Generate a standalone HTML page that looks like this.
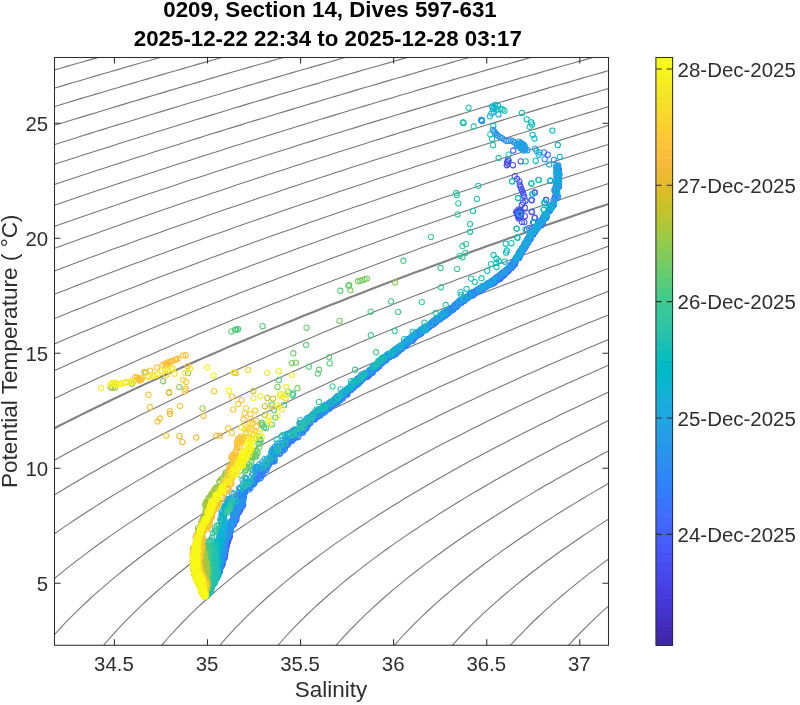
<!DOCTYPE html>
<html><head><meta charset="utf-8"><title>TS diagram</title>
<style>html,body{margin:0;padding:0;background:#fff}body{width:800px;height:705px;overflow:hidden;font-family:"Liberation Sans",sans-serif}</style></head>
<body>
<svg width="800" height="705" viewBox="0 0 800 705" style="display:block;font-family:'Liberation Sans',sans-serif;will-change:transform">
<defs><clipPath id="ax"><rect x="54.50" y="57.50" width="554.00" height="587.75"/></clipPath>
</defs>
<rect width="800" height="705" fill="#fff"/>
<g clip-path="url(#ax)" fill="none" stroke="#787878" stroke-width="1.1">
<polyline points="45.2,37.4 52.4,35.3 59.7,33.3 66.9,31.3 74.2,29.3 81.4,27.3 88.7,25.2 95.9,23.2 103.2,21.2 110.4,19.3 117.7,17.3 124.9,15.3 132.2,13.3 139.4,11.3 146.7,9.4 153.9,7.4 161.2,5.4 168.4,3.5 175.7,1.5 182.9,-0.5 190.2,-2.4 197.4,-4.3 204.7,-6.3 211.9,-8.2 219.2,-10.2 226.4,-12.1 233.6,-14.0 240.9,-15.9 248.1,-17.9 255.4,-19.8 262.6,-21.7 269.9,-23.6 277.1,-25.5 284.4,-27.4 291.6,-29.3 298.9,-31.2 306.1,-33.1 313.4,-35.0 320.6,-36.8 327.9,-38.7 335.1,-40.6 342.4,-42.5 349.6,-44.3 356.9,-46.2 364.1,-48.1 371.4,-49.9 378.6,-51.8 385.9,-53.6 393.1,-55.5 400.4,-57.3 407.6,-59.2 414.9,-61.0 422.1,-62.9 429.4,-64.7 436.6,-66.5 443.8,-68.4 451.1,-70.2 458.3,-72.0 465.6,-73.8 472.8,-75.6 480.1,-77.4 487.3,-79.3 494.6,-81.1 501.8,-82.9 509.1,-84.7 516.3,-86.5 523.6,-88.3 530.8,-90.1 538.1,-91.8 545.3,-93.6 552.6,-95.4 559.8,-97.2 567.1,-99.0 574.3,-100.8 581.6,-102.5 588.8,-104.3 596.1,-106.1 603.3,-107.8 610.6,-109.6 617.8,-111.4"/>
<polyline points="45.2,54.9 52.4,52.8 59.7,50.7 66.9,48.7 74.2,46.6 81.4,44.6 88.7,42.5 95.9,40.5 103.2,38.5 110.4,36.4 117.7,34.4 124.9,32.4 132.2,30.4 139.4,28.4 146.7,26.4 153.9,24.4 161.2,22.4 168.4,20.4 175.7,18.4 182.9,16.4 190.2,14.4 197.4,12.4 204.7,10.5 211.9,8.5 219.2,6.5 226.4,4.6 233.6,2.6 240.9,0.7 248.1,-1.3 255.4,-3.2 262.6,-5.2 269.9,-7.1 277.1,-9.1 284.4,-11.0 291.6,-12.9 298.9,-14.8 306.1,-16.7 313.4,-18.7 320.6,-20.6 327.9,-22.5 335.1,-24.4 342.4,-26.3 349.6,-28.2 356.9,-30.1 364.1,-32.0 371.4,-33.9 378.6,-35.7 385.9,-37.6 393.1,-39.5 400.4,-41.4 407.6,-43.2 414.9,-45.1 422.1,-47.0 429.4,-48.8 436.6,-50.7 443.8,-52.5 451.1,-54.4 458.3,-56.2 465.6,-58.1 472.8,-59.9 480.1,-61.8 487.3,-63.6 494.6,-65.4 501.8,-67.3 509.1,-69.1 516.3,-70.9 523.6,-72.7 530.8,-74.5 538.1,-76.4 545.3,-78.2 552.6,-80.0 559.8,-81.8 567.1,-83.6 574.3,-85.4 581.6,-87.2 588.8,-89.0 596.1,-90.8 603.3,-92.5 610.6,-94.3 617.8,-96.1"/>
<polyline points="45.2,72.7 52.4,70.6 59.7,68.5 66.9,66.4 74.2,64.3 81.4,62.2 88.7,60.1 95.9,58.1 103.2,56.0 110.4,53.9 117.7,51.9 124.9,49.8 132.2,47.7 139.4,45.7 146.7,43.7 153.9,41.6 161.2,39.6 168.4,37.6 175.7,35.5 182.9,33.5 190.2,31.5 197.4,29.5 204.7,27.5 211.9,25.5 219.2,23.5 226.4,21.5 233.6,19.5 240.9,17.5 248.1,15.5 255.4,13.5 262.6,11.6 269.9,9.6 277.1,7.6 284.4,5.7 291.6,3.7 298.9,1.8 306.1,-0.2 313.4,-2.1 320.6,-4.1 327.9,-6.0 335.1,-7.9 342.4,-9.9 349.6,-11.8 356.9,-13.7 364.1,-15.6 371.4,-17.6 378.6,-19.5 385.9,-21.4 393.1,-23.3 400.4,-25.2 407.6,-27.1 414.9,-29.0 422.1,-30.9 429.4,-32.8 436.6,-34.6 443.8,-36.5 451.1,-38.4 458.3,-40.3 465.6,-42.1 472.8,-44.0 480.1,-45.9 487.3,-47.7 494.6,-49.6 501.8,-51.5 509.1,-53.3 516.3,-55.2 523.6,-57.0 530.8,-58.8 538.1,-60.7 545.3,-62.5 552.6,-64.3 559.8,-66.2 567.1,-68.0 574.3,-69.8 581.6,-71.6 588.8,-73.5 596.1,-75.3 603.3,-77.1 610.6,-78.9 617.8,-80.7"/>
<polyline points="45.2,90.8 52.4,88.7 59.7,86.6 66.9,84.4 74.2,82.3 81.4,80.2 88.7,78.0 95.9,75.9 103.2,73.8 110.4,71.7 117.7,69.6 124.9,67.5 132.2,65.4 139.4,63.3 146.7,61.2 153.9,59.2 161.2,57.1 168.4,55.0 175.7,53.0 182.9,50.9 190.2,48.9 197.4,46.8 204.7,44.8 211.9,42.7 219.2,40.7 226.4,38.7 233.6,36.6 240.9,34.6 248.1,32.6 255.4,30.6 262.6,28.6 269.9,26.6 277.1,24.6 284.4,22.6 291.6,20.6 298.9,18.6 306.1,16.6 313.4,14.6 320.6,12.7 327.9,10.7 335.1,8.7 342.4,6.8 349.6,4.8 356.9,2.9 364.1,0.9 371.4,-1.0 378.6,-3.0 385.9,-4.9 393.1,-6.8 400.4,-8.8 407.6,-10.7 414.9,-12.6 422.1,-14.6 429.4,-16.5 436.6,-18.4 443.8,-20.3 451.1,-22.2 458.3,-24.1 465.6,-26.0 472.8,-27.9 480.1,-29.8 487.3,-31.7 494.6,-33.6 501.8,-35.4 509.1,-37.3 516.3,-39.2 523.6,-41.1 530.8,-42.9 538.1,-44.8 545.3,-46.7 552.6,-48.5 559.8,-50.4 567.1,-52.2 574.3,-54.1 581.6,-55.9 588.8,-57.8 596.1,-59.6 603.3,-61.4 610.6,-63.3 617.8,-65.1"/>
<polyline points="45.2,109.4 52.4,107.2 59.7,105.0 66.9,102.8 74.2,100.6 81.4,98.4 88.7,96.3 95.9,94.1 103.2,92.0 110.4,89.8 117.7,87.7 124.9,85.5 132.2,83.4 139.4,81.3 146.7,79.1 153.9,77.0 161.2,74.9 168.4,72.8 175.7,70.7 182.9,68.6 190.2,66.5 197.4,64.4 204.7,62.4 211.9,60.3 219.2,58.2 226.4,56.1 233.6,54.1 240.9,52.0 248.1,50.0 255.4,47.9 262.6,45.9 269.9,43.8 277.1,41.8 284.4,39.8 291.6,37.7 298.9,35.7 306.1,33.7 313.4,31.7 320.6,29.7 327.9,27.7 335.1,25.7 342.4,23.7 349.6,21.7 356.9,19.7 364.1,17.7 371.4,15.7 378.6,13.8 385.9,11.8 393.1,9.8 400.4,7.9 407.6,5.9 414.9,4.0 422.1,2.0 429.4,0.1 436.6,-1.9 443.8,-3.8 451.1,-5.8 458.3,-7.7 465.6,-9.6 472.8,-11.5 480.1,-13.5 487.3,-15.4 494.6,-17.3 501.8,-19.2 509.1,-21.1 516.3,-23.0 523.6,-24.9 530.8,-26.8 538.1,-28.7 545.3,-30.6 552.6,-32.5 559.8,-34.3 567.1,-36.2 574.3,-38.1 581.6,-40.0 588.8,-41.8 596.1,-43.7 603.3,-45.6 610.6,-47.4 617.8,-49.3"/>
<polyline points="45.2,128.3 52.4,126.0 59.7,123.8 66.9,121.5 74.2,119.3 81.4,117.1 88.7,114.9 95.9,112.7 103.2,110.5 110.4,108.3 117.7,106.1 124.9,103.9 132.2,101.7 139.4,99.6 146.7,97.4 153.9,95.2 161.2,93.1 168.4,90.9 175.7,88.8 182.9,86.6 190.2,84.5 197.4,82.4 204.7,80.3 211.9,78.1 219.2,76.0 226.4,73.9 233.6,71.8 240.9,69.7 248.1,67.6 255.4,65.5 262.6,63.5 269.9,61.4 277.1,59.3 284.4,57.2 291.6,55.2 298.9,53.1 306.1,51.1 313.4,49.0 320.6,47.0 327.9,44.9 335.1,42.9 342.4,40.9 349.6,38.8 356.9,36.8 364.1,34.8 371.4,32.8 378.6,30.8 385.9,28.8 393.1,26.8 400.4,24.8 407.6,22.8 414.9,20.8 422.1,18.8 429.4,16.8 436.6,14.9 443.8,12.9 451.1,10.9 458.3,9.0 465.6,7.0 472.8,5.1 480.1,3.1 487.3,1.2 494.6,-0.8 501.8,-2.7 509.1,-4.7 516.3,-6.6 523.6,-8.5 530.8,-10.5 538.1,-12.4 545.3,-14.3 552.6,-16.2 559.8,-18.1 567.1,-20.0 574.3,-21.9 581.6,-23.8 588.8,-25.7 596.1,-27.6 603.3,-29.5 610.6,-31.4 617.8,-33.3"/>
<polyline points="45.2,147.6 52.4,145.3 59.7,143.0 66.9,140.7 74.2,138.4 81.4,136.1 88.7,133.9 95.9,131.6 103.2,129.4 110.4,127.1 117.7,124.9 124.9,122.7 132.2,120.4 139.4,118.2 146.7,116.0 153.9,113.8 161.2,111.6 168.4,109.4 175.7,107.2 182.9,105.0 190.2,102.8 197.4,100.7 204.7,98.5 211.9,96.3 219.2,94.2 226.4,92.0 233.6,89.9 240.9,87.7 248.1,85.6 255.4,83.5 262.6,81.4 269.9,79.2 277.1,77.1 284.4,75.0 291.6,72.9 298.9,70.8 306.1,68.7 313.4,66.6 320.6,64.6 327.9,62.5 335.1,60.4 342.4,58.3 349.6,56.3 356.9,54.2 364.1,52.2 371.4,50.1 378.6,48.1 385.9,46.0 393.1,44.0 400.4,42.0 407.6,39.9 414.9,37.9 422.1,35.9 429.4,33.9 436.6,31.9 443.8,29.9 451.1,27.9 458.3,25.9 465.6,23.9 472.8,21.9 480.1,19.9 487.3,17.9 494.6,16.0 501.8,14.0 509.1,12.0 516.3,10.1 523.6,8.1 530.8,6.1 538.1,4.2 545.3,2.2 552.6,0.3 559.8,-1.6 567.1,-3.6 574.3,-5.5 581.6,-7.4 588.8,-9.4 596.1,-11.3 603.3,-13.2 610.6,-15.1 617.8,-17.0"/>
<polyline points="45.2,167.3 52.4,165.0 59.7,162.6 66.9,160.3 74.2,157.9 81.4,155.6 88.7,153.3 95.9,151.0 103.2,148.7 110.4,146.4 117.7,144.1 124.9,141.8 132.2,139.5 139.4,137.3 146.7,135.0 153.9,132.7 161.2,130.5 168.4,128.2 175.7,126.0 182.9,123.8 190.2,121.5 197.4,119.3 204.7,117.1 211.9,114.9 219.2,112.7 226.4,110.5 233.6,108.3 240.9,106.1 248.1,103.9 255.4,101.8 262.6,99.6 269.9,97.4 277.1,95.3 284.4,93.1 291.6,91.0 298.9,88.8 306.1,86.7 313.4,84.6 320.6,82.5 327.9,80.3 335.1,78.2 342.4,76.1 349.6,74.0 356.9,71.9 364.1,69.8 371.4,67.7 378.6,65.7 385.9,63.6 393.1,61.5 400.4,59.4 407.6,57.4 414.9,55.3 422.1,53.3 429.4,51.2 436.6,49.2 443.8,47.1 451.1,45.1 458.3,43.1 465.6,41.0 472.8,39.0 480.1,37.0 487.3,35.0 494.6,33.0 501.8,31.0 509.1,29.0 516.3,27.0 523.6,25.0 530.8,23.0 538.1,21.0 545.3,19.0 552.6,17.0 559.8,15.1 567.1,13.1 574.3,11.1 581.6,9.2 588.8,7.2 596.1,5.3 603.3,3.3 610.6,1.4 617.8,-0.6"/>
<polyline points="45.2,187.6 52.4,185.1 59.7,182.7 66.9,180.3 74.2,177.9 81.4,175.5 88.7,173.2 95.9,170.8 103.2,168.4 110.4,166.1 117.7,163.7 124.9,161.4 132.2,159.1 139.4,156.7 146.7,154.4 153.9,152.1 161.2,149.8 168.4,147.5 175.7,145.2 182.9,142.9 190.2,140.6 197.4,138.4 204.7,136.1 211.9,133.8 219.2,131.6 226.4,129.3 233.6,127.1 240.9,124.9 248.1,122.6 255.4,120.4 262.6,118.2 269.9,116.0 277.1,113.8 284.4,111.6 291.6,109.4 298.9,107.2 306.1,105.0 313.4,102.9 320.6,100.7 327.9,98.5 335.1,96.4 342.4,94.2 349.6,92.1 356.9,89.9 364.1,87.8 371.4,85.7 378.6,83.6 385.9,81.4 393.1,79.3 400.4,77.2 407.6,75.1 414.9,73.0 422.1,70.9 429.4,68.8 436.6,66.8 443.8,64.7 451.1,62.6 458.3,60.5 465.6,58.5 472.8,56.4 480.1,54.4 487.3,52.3 494.6,50.3 501.8,48.2 509.1,46.2 516.3,44.1 523.6,42.1 530.8,40.1 538.1,38.1 545.3,36.1 552.6,34.1 559.8,32.0 567.1,30.0 574.3,28.1 581.6,26.1 588.8,24.1 596.1,22.1 603.3,20.1 610.6,18.1 617.8,16.2"/>
<polyline points="45.2,208.3 52.4,205.9 59.7,203.4 66.9,200.9 74.2,198.4 81.4,196.0 88.7,193.5 95.9,191.1 103.2,188.7 110.4,186.3 117.7,183.8 124.9,181.4 132.2,179.0 139.4,176.7 146.7,174.3 153.9,171.9 161.2,169.5 168.4,167.2 175.7,164.8 182.9,162.5 190.2,160.2 197.4,157.8 204.7,155.5 211.9,153.2 219.2,150.9 226.4,148.6 233.6,146.3 240.9,144.0 248.1,141.7 255.4,139.5 262.6,137.2 269.9,134.9 277.1,132.7 284.4,130.4 291.6,128.2 298.9,126.0 306.1,123.7 313.4,121.5 320.6,119.3 327.9,117.1 335.1,114.9 342.4,112.7 349.6,110.5 356.9,108.3 364.1,106.1 371.4,104.0 378.6,101.8 385.9,99.6 393.1,97.5 400.4,95.3 407.6,93.2 414.9,91.0 422.1,88.9 429.4,86.8 436.6,84.6 443.8,82.5 451.1,80.4 458.3,78.3 465.6,76.2 472.8,74.1 480.1,72.0 487.3,69.9 494.6,67.8 501.8,65.8 509.1,63.7 516.3,61.6 523.6,59.6 530.8,57.5 538.1,55.4 545.3,53.4 552.6,51.3 559.8,49.3 567.1,47.3 574.3,45.2 581.6,43.2 588.8,41.2 596.1,39.2 603.3,37.1 610.6,35.1 617.8,33.1"/>
<polyline points="45.2,229.7 52.4,227.1 59.7,224.6 66.9,222.0 74.2,219.5 81.4,217.0 88.7,214.5 95.9,211.9 103.2,209.4 110.4,207.0 117.7,204.5 124.9,202.0 132.2,199.5 139.4,197.1 146.7,194.6 153.9,192.2 161.2,189.8 168.4,187.4 175.7,184.9 182.9,182.5 190.2,180.1 197.4,177.8 204.7,175.4 211.9,173.0 219.2,170.6 226.4,168.3 233.6,165.9 240.9,163.6 248.1,161.3 255.4,158.9 262.6,156.6 269.9,154.3 277.1,152.0 284.4,149.7 291.6,147.4 298.9,145.1 306.1,142.8 313.4,140.6 320.6,138.3 327.9,136.0 335.1,133.8 342.4,131.5 349.6,129.3 356.9,127.1 364.1,124.8 371.4,122.6 378.6,120.4 385.9,118.2 393.1,116.0 400.4,113.8 407.6,111.6 414.9,109.4 422.1,107.2 429.4,105.1 436.6,102.9 443.8,100.7 451.1,98.6 458.3,96.4 465.6,94.3 472.8,92.1 480.1,90.0 487.3,87.9 494.6,85.7 501.8,83.6 509.1,81.5 516.3,79.4 523.6,77.3 530.8,75.2 538.1,73.1 545.3,71.0 552.6,68.9 559.8,66.8 567.1,64.8 574.3,62.7 581.6,60.6 588.8,58.6 596.1,56.5 603.3,54.5 610.6,52.4 617.8,50.4"/>
<polyline points="45.2,251.7 52.4,249.1 59.7,246.4 66.9,243.8 74.2,241.2 81.4,238.6 88.7,236.0 95.9,233.4 103.2,230.8 110.4,228.2 117.7,225.7 124.9,223.1 132.2,220.6 139.4,218.1 146.7,215.5 153.9,213.0 161.2,210.5 168.4,208.0 175.7,205.6 182.9,203.1 190.2,200.6 197.4,198.2 204.7,195.7 211.9,193.3 219.2,190.9 226.4,188.4 233.6,186.0 240.9,183.6 248.1,181.2 255.4,178.8 262.6,176.5 269.9,174.1 277.1,171.7 284.4,169.4 291.6,167.0 298.9,164.7 306.1,162.3 313.4,160.0 320.6,157.7 327.9,155.4 335.1,153.1 342.4,150.8 349.6,148.5 356.9,146.2 364.1,143.9 371.4,141.6 378.6,139.4 385.9,137.1 393.1,134.9 400.4,132.6 407.6,130.4 414.9,128.1 422.1,125.9 429.4,123.7 436.6,121.5 443.8,119.3 451.1,117.1 458.3,114.9 465.6,112.7 472.8,110.5 480.1,108.3 487.3,106.1 494.6,104.0 501.8,101.8 509.1,99.6 516.3,97.5 523.6,95.4 530.8,93.2 538.1,91.1 545.3,88.9 552.6,86.8 559.8,84.7 567.1,82.6 574.3,80.5 581.6,78.4 588.8,76.3 596.1,74.2 603.3,72.1 610.6,70.0 617.8,67.9"/>
<polyline points="45.2,274.4 52.4,271.7 59.7,268.9 66.9,266.2 74.2,263.5 81.4,260.8 88.7,258.1 95.9,255.5 103.2,252.8 110.4,250.1 117.7,247.5 124.9,244.9 132.2,242.3 139.4,239.6 146.7,237.0 153.9,234.5 161.2,231.9 168.4,229.3 175.7,226.8 182.9,224.2 190.2,221.7 197.4,219.2 204.7,216.6 211.9,214.1 219.2,211.6 226.4,209.1 233.6,206.7 240.9,204.2 248.1,201.7 255.4,199.3 262.6,196.8 269.9,194.4 277.1,192.0 284.4,189.5 291.6,187.1 298.9,184.7 306.1,182.3 313.4,179.9 320.6,177.6 327.9,175.2 335.1,172.8 342.4,170.5 349.6,168.1 356.9,165.8 364.1,163.4 371.4,161.1 378.6,158.8 385.9,156.5 393.1,154.2 400.4,151.9 407.6,149.6 414.9,147.3 422.1,145.0 429.4,142.7 436.6,140.5 443.8,138.2 451.1,135.9 458.3,133.7 465.6,131.5 472.8,129.2 480.1,127.0 487.3,124.8 494.6,122.6 501.8,120.4 509.1,118.1 516.3,116.0 523.6,113.8 530.8,111.6 538.1,109.4 545.3,107.2 552.6,105.0 559.8,102.9 567.1,100.7 574.3,98.6 581.6,96.4 588.8,94.3 596.1,92.2 603.3,90.0 610.6,87.9 617.8,85.8"/>
<polyline points="45.2,298.0 52.4,295.1 59.7,292.3 66.9,289.4 74.2,286.6 81.4,283.8 88.7,281.0 95.9,278.3 103.2,275.5 110.4,272.8 117.7,270.0 124.9,267.3 132.2,264.6 139.4,261.9 146.7,259.2 153.9,256.5 161.2,253.9 168.4,251.2 175.7,248.6 182.9,246.0 190.2,243.3 197.4,240.7 204.7,238.1 211.9,235.5 219.2,233.0 226.4,230.4 233.6,227.8 240.9,225.3 248.1,222.8 255.4,220.2 262.6,217.7 269.9,215.2 277.1,212.7 284.4,210.2 291.6,207.7 298.9,205.3 306.1,202.8 313.4,200.4 320.6,197.9 327.9,195.5 335.1,193.0 342.4,190.6 349.6,188.2 356.9,185.8 364.1,183.4 371.4,181.0 378.6,178.6 385.9,176.3 393.1,173.9 400.4,171.5 407.6,169.2 414.9,166.8 422.1,164.5 429.4,162.2 436.6,159.9 443.8,157.5 451.1,155.2 458.3,152.9 465.6,150.6 472.8,148.4 480.1,146.1 487.3,143.8 494.6,141.5 501.8,139.3 509.1,137.0 516.3,134.8 523.6,132.5 530.8,130.3 538.1,128.1 545.3,125.9 552.6,123.6 559.8,121.4 567.1,119.2 574.3,117.0 581.6,114.8 588.8,112.6 596.1,110.5 603.3,108.3 610.6,106.1 617.8,104.0"/>
<polyline points="45.2,322.4 52.4,319.4 59.7,316.5 66.9,313.5 74.2,310.6 81.4,307.7 88.7,304.8 95.9,301.9 103.2,299.0 110.4,296.2 117.7,293.3 124.9,290.5 132.2,287.7 139.4,284.9 146.7,282.1 153.9,279.3 161.2,276.6 168.4,273.8 175.7,271.1 182.9,268.4 190.2,265.7 197.4,263.0 204.7,260.3 211.9,257.6 219.2,255.0 226.4,252.3 233.6,249.7 240.9,247.0 248.1,244.4 255.4,241.8 262.6,239.2 269.9,236.6 277.1,234.0 284.4,231.5 291.6,228.9 298.9,226.4 306.1,223.8 313.4,221.3 320.6,218.8 327.9,216.3 335.1,213.8 342.4,211.3 349.6,208.8 356.9,206.3 364.1,203.9 371.4,201.4 378.6,199.0 385.9,196.5 393.1,194.1 400.4,191.7 407.6,189.3 414.9,186.9 422.1,184.5 429.4,182.1 436.6,179.7 443.8,177.3 451.1,175.0 458.3,172.6 465.6,170.3 472.8,167.9 480.1,165.6 487.3,163.3 494.6,160.9 501.8,158.6 509.1,156.3 516.3,154.0 523.6,151.7 530.8,149.4 538.1,147.2 545.3,144.9 552.6,142.6 559.8,140.4 567.1,138.1 574.3,135.9 581.6,133.6 588.8,131.4 596.1,129.2 603.3,126.9 610.6,124.7 617.8,122.5"/>
<polyline points="45.2,347.9 52.4,344.8 59.7,341.7 66.9,338.6 74.2,335.6 81.4,332.5 88.7,329.5 95.9,326.5 103.2,323.5 110.4,320.5 117.7,317.5 124.9,314.6 132.2,311.7 139.4,308.8 146.7,305.9 153.9,303.0 161.2,300.1 168.4,297.2 175.7,294.4 182.9,291.6 190.2,288.8 197.4,286.0 204.7,283.2 211.9,280.4 219.2,277.7 226.4,274.9 233.6,272.2 240.9,269.5 248.1,266.7 255.4,264.0 262.6,261.4 269.9,258.7 277.1,256.0 284.4,253.4 291.6,250.7 298.9,248.1 306.1,245.5 313.4,242.9 320.6,240.3 327.9,237.7 335.1,235.1 342.4,232.6 349.6,230.0 356.9,227.5 364.1,224.9 371.4,222.4 378.6,219.9 385.9,217.4 393.1,214.9 400.4,212.4 407.6,209.9 414.9,207.4 422.1,205.0 429.4,202.5 436.6,200.1 443.8,197.6 451.1,195.2 458.3,192.8 465.6,190.4 472.8,188.0 480.1,185.6 487.3,183.2 494.6,180.8 501.8,178.4 509.1,176.0 516.3,173.7 523.6,171.3 530.8,169.0 538.1,166.7 545.3,164.3 552.6,162.0 559.8,159.7 567.1,157.4 574.3,155.1 581.6,152.8 588.8,150.5 596.1,148.2 603.3,146.0 610.6,143.7 617.8,141.4"/>
<polyline points="45.2,374.7 52.4,371.4 59.7,368.2 66.9,364.9 74.2,361.7 81.4,358.5 88.7,355.3 95.9,352.1 103.2,349.0 110.4,345.9 117.7,342.8 124.9,339.7 132.2,336.6 139.4,333.6 146.7,330.5 153.9,327.5 161.2,324.5 168.4,321.6 175.7,318.6 182.9,315.7 190.2,312.7 197.4,309.8 204.7,306.9 211.9,304.0 219.2,301.2 226.4,298.3 233.6,295.5 240.9,292.6 248.1,289.8 255.4,287.0 262.6,284.2 269.9,281.5 277.1,278.7 284.4,276.0 291.6,273.2 298.9,270.5 306.1,267.8 313.4,265.1 320.6,262.4 327.9,259.8 335.1,257.1 342.4,254.4 349.6,251.8 356.9,249.2 364.1,246.6 371.4,243.9 378.6,241.3 385.9,238.8 393.1,236.2 400.4,233.6 407.6,231.1 414.9,228.5 422.1,226.0 429.4,223.5 436.6,220.9 443.8,218.4 451.1,215.9 458.3,213.4 465.6,211.0 472.8,208.5 480.1,206.0 487.3,203.6 494.6,201.1 501.8,198.7 509.1,196.3 516.3,193.8 523.6,191.4 530.8,189.0 538.1,186.6 545.3,184.2 552.6,181.9 559.8,179.5 567.1,177.1 574.3,174.8 581.6,172.4 588.8,170.1 596.1,167.7 603.3,165.4 610.6,163.1 617.8,160.8"/>
<polyline points="45.2,403.0 52.4,399.5 59.7,396.0 66.9,392.6 74.2,389.1 81.4,385.8 88.7,382.4 95.9,379.0 103.2,375.7 110.4,372.4 117.7,369.2 124.9,365.9 132.2,362.7 139.4,359.5 146.7,356.3 153.9,353.2 161.2,350.0 168.4,346.9 175.7,343.8 182.9,340.7 190.2,337.7 197.4,334.6 204.7,331.6 211.9,328.6 219.2,325.6 226.4,322.6 233.6,319.6 240.9,316.7 248.1,313.8 255.4,310.9 262.6,308.0 269.9,305.1 277.1,302.2 284.4,299.4 291.6,296.5 298.9,293.7 306.1,290.9 313.4,288.1 320.6,285.3 327.9,282.5 335.1,279.8 342.4,277.0 349.6,274.3 356.9,271.6 364.1,268.9 371.4,266.2 378.6,263.5 385.9,260.8 393.1,258.1 400.4,255.5 407.6,252.9 414.9,250.2 422.1,247.6 429.4,245.0 436.6,242.4 443.8,239.8 451.1,237.2 458.3,234.7 465.6,232.1 472.8,229.6 480.1,227.0 487.3,224.5 494.6,222.0 501.8,219.5 509.1,217.0 516.3,214.5 523.6,212.0 530.8,209.5 538.1,207.1 545.3,204.6 552.6,202.2 559.8,199.7 567.1,197.3 574.3,194.9 581.6,192.5 588.8,190.1 596.1,187.7 603.3,185.3 610.6,182.9 617.8,180.5"/>
<polyline points="45.2,433.0 52.4,429.3 59.7,425.5 66.9,421.9 74.2,418.2 81.4,414.6 88.7,411.0 95.9,407.5 103.2,404.0 110.4,400.5 117.7,397.0 124.9,393.6 132.2,390.1 139.4,386.8 146.7,383.4 153.9,380.1 161.2,376.8 168.4,373.5 175.7,370.2 182.9,367.0 190.2,363.7 197.4,360.5 204.7,357.4 211.9,354.2 219.2,351.1 226.4,347.9 233.6,344.8 240.9,341.8 248.1,338.7 255.4,335.6 262.6,332.6 269.9,329.6 277.1,326.6 284.4,323.6 291.6,320.7 298.9,317.7 306.1,314.8 313.4,311.9 320.6,309.0 327.9,306.1 335.1,303.3 342.4,300.4 349.6,297.6 356.9,294.7 364.1,291.9 371.4,289.1 378.6,286.3 385.9,283.6 393.1,280.8 400.4,278.1 407.6,275.3 414.9,272.6 422.1,269.9 429.4,267.2 436.6,264.5 443.8,261.9 451.1,259.2 458.3,256.5 465.6,253.9 472.8,251.3 480.1,248.7 487.3,246.1 494.6,243.5 501.8,240.9 509.1,238.3 516.3,235.7 523.6,233.2 530.8,230.6 538.1,228.1 545.3,225.6 552.6,223.1 559.8,220.5 567.1,218.0 574.3,215.6 581.6,213.1 588.8,210.6 596.1,208.1 603.3,205.7 610.6,203.2 617.8,200.8" stroke-width="2.1" stroke="#828282"/>
<polyline points="45.2,465.3 52.4,461.3 59.7,457.2 66.9,453.3 74.2,449.3 81.4,445.4 88.7,441.6 95.9,437.8 103.2,434.0 110.4,430.2 117.7,426.5 124.9,422.8 132.2,419.2 139.4,415.6 146.7,412.0 153.9,408.5 161.2,404.9 168.4,401.5 175.7,398.0 182.9,394.6 190.2,391.1 197.4,387.8 204.7,384.4 211.9,381.1 219.2,377.8 226.4,374.5 233.6,371.2 240.9,368.0 248.1,364.7 255.4,361.5 262.6,358.4 269.9,355.2 277.1,352.1 284.4,349.0 291.6,345.9 298.9,342.8 306.1,339.7 313.4,336.7 320.6,333.6 327.9,330.6 335.1,327.6 342.4,324.7 349.6,321.7 356.9,318.8 364.1,315.8 371.4,312.9 378.6,310.0 385.9,307.2 393.1,304.3 400.4,301.4 407.6,298.6 414.9,295.8 422.1,293.0 429.4,290.2 436.6,287.4 443.8,284.6 451.1,281.9 458.3,279.1 465.6,276.4 472.8,273.7 480.1,271.0 487.3,268.3 494.6,265.6 501.8,262.9 509.1,260.2 516.3,257.6 523.6,255.0 530.8,252.3 538.1,249.7 545.3,247.1 552.6,244.5 559.8,241.9 567.1,239.3 574.3,236.8 581.6,234.2 588.8,231.7 596.1,229.1 603.3,226.6 610.6,224.1 617.8,221.6"/>
<polyline points="45.2,500.7 52.4,496.2 59.7,491.7 66.9,487.3 74.2,483.0 81.4,478.8 88.7,474.5 95.9,470.4 103.2,466.3 110.4,462.2 117.7,458.2 124.9,454.2 132.2,450.3 139.4,446.4 146.7,442.5 153.9,438.7 161.2,434.9 168.4,431.2 175.7,427.5 182.9,423.8 190.2,420.2 197.4,416.6 204.7,413.0 211.9,409.4 219.2,405.9 226.4,402.4 233.6,399.0 240.9,395.5 248.1,392.1 255.4,388.8 262.6,385.4 269.9,382.1 277.1,378.8 284.4,375.5 291.6,372.2 298.9,369.0 306.1,365.8 313.4,362.6 320.6,359.4 327.9,356.2 335.1,353.1 342.4,350.0 349.6,346.9 356.9,343.8 364.1,340.7 371.4,337.7 378.6,334.7 385.9,331.7 393.1,328.7 400.4,325.7 407.6,322.7 414.9,319.8 422.1,316.9 429.4,314.0 436.6,311.1 443.8,308.2 451.1,305.3 458.3,302.5 465.6,299.6 472.8,296.8 480.1,294.0 487.3,291.2 494.6,288.4 501.8,285.7 509.1,282.9 516.3,280.2 523.6,277.4 530.8,274.7 538.1,272.0 545.3,269.3 552.6,266.6 559.8,263.9 567.1,261.3 574.3,258.6 581.6,256.0 588.8,253.4 596.1,250.8 603.3,248.1 610.6,245.6 617.8,243.0"/>
<polyline points="45.2,540.3 52.4,535.1 59.7,530.1 66.9,525.1 74.2,520.2 81.4,515.5 88.7,510.7 95.9,506.1 103.2,501.5 110.4,497.0 117.7,492.6 124.9,488.2 132.2,483.9 139.4,479.6 146.7,475.4 153.9,471.3 161.2,467.2 168.4,463.1 175.7,459.1 182.9,455.1 190.2,451.2 197.4,447.3 204.7,443.5 211.9,439.7 219.2,435.9 226.4,432.1 233.6,428.4 240.9,424.8 248.1,421.1 255.4,417.5 262.6,414.0 269.9,410.4 277.1,406.9 284.4,403.4 291.6,400.0 298.9,396.5 306.1,393.1 313.4,389.7 320.6,386.4 327.9,383.1 335.1,379.7 342.4,376.5 349.6,373.2 356.9,370.0 364.1,366.8 371.4,363.6 378.6,360.4 385.9,357.2 393.1,354.1 400.4,351.0 407.6,347.9 414.9,344.8 422.1,341.7 429.4,338.7 436.6,335.7 443.8,332.7 451.1,329.7 458.3,326.7 465.6,323.8 472.8,320.8 480.1,317.9 487.3,315.0 494.6,312.1 501.8,309.2 509.1,306.3 516.3,303.5 523.6,300.7 530.8,297.8 538.1,295.0 545.3,292.2 552.6,289.5 559.8,286.7 567.1,283.9 574.3,281.2 581.6,278.5 588.8,275.7 596.1,273.0 603.3,270.3 610.6,267.7 617.8,265.0"/>
<polyline points="45.2,586.5 52.4,580.3 59.7,574.2 66.9,568.4 74.2,562.6 81.4,557.1 88.7,551.6 95.9,546.3 103.2,541.0 110.4,535.9 117.7,530.9 124.9,525.9 132.2,521.1 139.4,516.3 146.7,511.6 153.9,506.9 161.2,502.4 168.4,497.9 175.7,493.5 182.9,489.1 190.2,484.8 197.4,480.5 204.7,476.3 211.9,472.2 219.2,468.1 226.4,464.0 233.6,460.0 240.9,456.0 248.1,452.1 255.4,448.2 262.6,444.4 269.9,440.6 277.1,436.8 284.4,433.1 291.6,429.4 298.9,425.7 306.1,422.1 313.4,418.5 320.6,414.9 327.9,411.4 335.1,407.9 342.4,404.4 349.6,400.9 356.9,397.5 364.1,394.1 371.4,390.7 378.6,387.4 385.9,384.0 393.1,380.7 400.4,377.5 407.6,374.2 414.9,371.0 422.1,367.7 429.4,364.6 436.6,361.4 443.8,358.2 451.1,355.1 458.3,352.0 465.6,348.9 472.8,345.8 480.1,342.8 487.3,339.7 494.6,336.7 501.8,333.7 509.1,330.7 516.3,327.7 523.6,324.8 530.8,321.8 538.1,318.9 545.3,316.0 552.6,313.1 559.8,310.2 567.1,307.4 574.3,304.5 581.6,301.7 588.8,298.9 596.1,296.1 603.3,293.3 610.6,290.5 617.8,287.7"/>
<polyline points="45.2,645.6 52.4,637.0 59.7,628.9 66.9,621.2 74.2,613.9 81.4,606.8 88.7,600.0 95.9,593.4 103.2,587.1 110.4,580.9 117.7,574.9 124.9,569.0 132.2,563.3 139.4,557.8 146.7,552.3 153.9,547.0 161.2,541.8 168.4,536.6 175.7,531.6 182.9,526.7 190.2,521.8 197.4,517.1 204.7,512.4 211.9,507.8 219.2,503.2 226.4,498.7 233.6,494.3 240.9,490.0 248.1,485.7 255.4,481.4 262.6,477.2 269.9,473.1 277.1,469.0 284.4,464.9 291.6,460.9 298.9,457.0 306.1,453.0 313.4,449.2 320.6,445.3 327.9,441.5 335.1,437.7 342.4,434.0 349.6,430.3 356.9,426.7 364.1,423.0 371.4,419.4 378.6,415.9 385.9,412.3 393.1,408.8 400.4,405.3 407.6,401.9 414.9,398.5 422.1,395.1 429.4,391.7 436.6,388.3 443.8,385.0 451.1,381.7 458.3,378.4 465.6,375.2 472.8,371.9 480.1,368.7 487.3,365.5 494.6,362.4 501.8,359.2 509.1,356.1 516.3,353.0 523.6,349.9 530.8,346.8 538.1,343.7 545.3,340.7 552.6,337.7 559.8,334.7 567.1,331.7 574.3,328.7 581.6,325.8 588.8,322.8 596.1,319.9 603.3,317.0 610.6,314.1 617.8,311.2"/>
<polyline points="45.2,813.2 52.4,736.5 59.7,715.5 66.9,699.8 74.2,686.5 81.4,674.9 88.7,664.4 95.9,654.8 103.2,645.8 110.4,637.3 117.7,629.3 124.9,621.6 132.2,614.3 139.4,607.3 146.7,600.5 153.9,594.0 161.2,587.6 168.4,581.5 175.7,575.5 182.9,569.7 190.2,564.0 197.4,558.4 204.7,553.0 211.9,547.7 219.2,542.5 226.4,537.4 233.6,532.4 240.9,527.5 248.1,522.6 255.4,517.9 262.6,513.2 269.9,508.6 277.1,504.0 284.4,499.6 291.6,495.2 298.9,490.8 306.1,486.5 313.4,482.3 320.6,478.1 327.9,473.9 335.1,469.8 342.4,465.8 349.6,461.8 356.9,457.8 364.1,453.9 371.4,450.1 378.6,446.2 385.9,442.4 393.1,438.7 400.4,434.9 407.6,431.2 414.9,427.6 422.1,424.0 429.4,420.4 436.6,416.8 443.8,413.3 451.1,409.8 458.3,406.3 465.6,402.8 472.8,399.4 480.1,396.0 487.3,392.6 494.6,389.3 501.8,386.0 509.1,382.7 516.3,379.4 523.6,376.1 530.8,372.9 538.1,369.7 545.3,366.5 552.6,363.3 559.8,360.2 567.1,357.1 574.3,354.0 581.6,350.9 588.8,347.8 596.1,344.7 603.3,341.7 610.6,338.7 617.8,335.7"/>
<polyline points="45.2,813.2 52.4,813.2 59.7,813.2 66.9,813.2 74.2,813.2 81.4,813.2 88.7,813.2 95.9,813.2 103.2,776.9 110.4,734.0 117.7,714.3 124.9,699.1 132.2,686.2 139.4,674.8 146.7,664.4 153.9,654.8 161.2,645.9 168.4,637.5 175.7,629.6 182.9,622.0 190.2,614.7 197.4,607.7 204.7,601.0 211.9,594.5 219.2,588.2 226.4,582.1 233.6,576.1 240.9,570.3 248.1,564.7 255.4,559.1 262.6,553.7 269.9,548.4 277.1,543.2 284.4,538.1 291.6,533.1 298.9,528.2 306.1,523.4 313.4,518.7 320.6,514.0 327.9,509.4 335.1,504.9 342.4,500.4 349.6,496.0 356.9,491.6 364.1,487.4 371.4,483.1 378.6,478.9 385.9,474.8 393.1,470.7 400.4,466.7 407.6,462.7 414.9,458.7 422.1,454.8 429.4,451.0 436.6,447.1 443.8,443.3 451.1,439.6 458.3,435.9 465.6,432.2 472.8,428.5 480.1,424.9 487.3,421.3 494.6,417.7 501.8,414.2 509.1,410.7 516.3,407.2 523.6,403.8 530.8,400.4 538.1,397.0 545.3,393.6 552.6,390.3 559.8,386.9 567.1,383.6 574.3,380.4 581.6,377.1 588.8,373.9 596.1,370.7 603.3,367.5 610.6,364.3 617.8,361.2"/>
<polyline points="45.2,813.2 52.4,813.2 59.7,813.2 66.9,813.2 74.2,813.2 81.4,813.2 88.7,813.2 95.9,813.2 103.2,813.2 110.4,813.2 117.7,813.2 124.9,813.2 132.2,813.2 139.4,813.2 146.7,813.2 153.9,813.2 161.2,763.3 168.4,731.8 175.7,713.1 182.9,698.4 190.2,685.8 197.4,674.6 204.7,664.4 211.9,654.9 219.2,646.1 226.4,637.8 233.6,629.9 240.9,622.4 248.1,615.1 255.4,608.2 262.6,601.5 269.9,595.0 277.1,588.8 284.4,582.7 291.6,576.7 298.9,570.9 306.1,565.3 313.4,559.8 320.6,554.4 327.9,549.1 335.1,543.9 342.4,538.9 349.6,533.9 356.9,529.0 364.1,524.2 371.4,519.4 378.6,514.8 385.9,510.2 393.1,505.7 400.4,501.2 407.6,496.8 414.9,492.5 422.1,488.2 429.4,484.0 436.6,479.8 443.8,475.7 451.1,471.6 458.3,467.6 465.6,463.6 472.8,459.6 480.1,455.7 487.3,451.8 494.6,448.0 501.8,444.2 509.1,440.5 516.3,436.8 523.6,433.1 530.8,429.4 538.1,425.8 545.3,422.2 552.6,418.7 559.8,415.1 567.1,411.6 574.3,408.2 581.6,404.7 588.8,401.3 596.1,397.9 603.3,394.5 610.6,391.2 617.8,387.9"/>
<polyline points="45.2,813.2 52.4,813.2 59.7,813.2 66.9,813.2 74.2,813.2 81.4,813.2 88.7,813.2 95.9,813.2 103.2,813.2 110.4,813.2 117.7,813.2 124.9,813.2 132.2,813.2 139.4,813.2 146.7,813.2 153.9,813.2 161.2,813.2 168.4,813.2 175.7,813.2 182.9,813.2 190.2,813.2 197.4,813.2 204.7,813.2 211.9,813.2 219.2,756.9 226.4,729.8 233.6,712.0 240.9,697.7 248.1,685.4 255.4,674.4 262.6,664.3 269.9,655.0 277.1,646.3 284.4,638.0 291.6,630.2 298.9,622.7 306.1,615.5 313.4,608.6 320.6,602.0 327.9,595.5 335.1,589.3 342.4,583.2 349.6,577.3 356.9,571.6 364.1,565.9 371.4,560.4 378.6,555.1 385.9,549.8 393.1,544.6 400.4,539.6 407.6,534.6 414.9,529.7 422.1,524.9 429.4,520.2 436.6,515.6 443.8,511.0 451.1,506.5 458.3,502.0 465.6,497.6 472.8,493.3 480.1,489.0 487.3,484.8 494.6,480.6 501.8,476.5 509.1,472.4 516.3,468.4 523.6,464.4 530.8,460.5 538.1,456.6 545.3,452.7 552.6,448.9 559.8,445.1 567.1,441.4 574.3,437.7 581.6,434.0 588.8,430.3 596.1,426.7 603.3,423.1 610.6,419.6 617.8,416.1"/>
<polyline points="45.2,813.2 52.4,813.2 59.7,813.2 66.9,813.2 74.2,813.2 81.4,813.2 88.7,813.2 95.9,813.2 103.2,813.2 110.4,813.2 117.7,813.2 124.9,813.2 132.2,813.2 139.4,813.2 146.7,813.2 153.9,813.2 161.2,813.2 168.4,813.2 175.7,813.2 182.9,813.2 190.2,813.2 197.4,813.2 204.7,813.2 211.9,813.2 219.2,813.2 226.4,813.2 233.6,813.2 240.9,813.2 248.1,813.2 255.4,813.2 262.6,813.2 269.9,813.2 277.1,752.3 284.4,728.0 291.6,711.0 298.9,697.1 306.1,685.0 313.4,674.2 320.6,664.3 327.9,655.1 335.1,646.4 342.4,638.2 349.6,630.5 356.9,623.1 364.1,615.9 371.4,609.1 378.6,602.5 385.9,596.0 393.1,589.8 400.4,583.8 407.6,577.9 414.9,572.2 422.1,566.6 429.4,561.1 436.6,555.7 443.8,550.5 451.1,545.3 458.3,540.3 465.6,535.3 472.8,530.5 480.1,525.7 487.3,521.0 494.6,516.3 501.8,511.8 509.1,507.2 516.3,502.8 523.6,498.4 530.8,494.1 538.1,489.8 545.3,485.6 552.6,481.5 559.8,477.3 567.1,473.3 574.3,469.3 581.6,465.3 588.8,461.4 596.1,457.5 603.3,453.6 610.6,449.8 617.8,446.0"/>
<polyline points="45.2,813.2 52.4,813.2 59.7,813.2 66.9,813.2 74.2,813.2 81.4,813.2 88.7,813.2 95.9,813.2 103.2,813.2 110.4,813.2 117.7,813.2 124.9,813.2 132.2,813.2 139.4,813.2 146.7,813.2 153.9,813.2 161.2,813.2 168.4,813.2 175.7,813.2 182.9,813.2 190.2,813.2 197.4,813.2 204.7,813.2 211.9,813.2 219.2,813.2 226.4,813.2 233.6,813.2 240.9,813.2 248.1,813.2 255.4,813.2 262.6,813.2 269.9,813.2 277.1,813.2 284.4,813.2 291.6,813.2 298.9,813.2 306.1,813.2 313.4,813.2 320.6,813.2 327.9,813.2 335.1,748.5 342.4,726.3 349.6,710.0 356.9,696.5 364.1,684.7 371.4,674.0 378.6,664.2 385.9,655.1 393.1,646.6 400.4,638.5 407.6,630.8 414.9,623.4 422.1,616.3 429.4,609.5 436.6,602.9 443.8,596.5 451.1,590.3 458.3,584.3 465.6,578.5 472.8,572.8 480.1,567.2 487.3,561.7 494.6,556.4 501.8,551.1 509.1,546.0 516.3,541.0 523.6,536.0 530.8,531.2 538.1,526.4 545.3,521.7 552.6,517.1 559.8,512.5 567.1,508.0 574.3,503.6 581.6,499.2 588.8,494.9 596.1,490.6 603.3,486.4 610.6,482.3 617.8,478.2"/>
<polyline points="45.2,813.2 52.4,813.2 59.7,813.2 66.9,813.2 74.2,813.2 81.4,813.2 88.7,813.2 95.9,813.2 103.2,813.2 110.4,813.2 117.7,813.2 124.9,813.2 132.2,813.2 139.4,813.2 146.7,813.2 153.9,813.2 161.2,813.2 168.4,813.2 175.7,813.2 182.9,813.2 190.2,813.2 197.4,813.2 204.7,813.2 211.9,813.2 219.2,813.2 226.4,813.2 233.6,813.2 240.9,813.2 248.1,813.2 255.4,813.2 262.6,813.2 269.9,813.2 277.1,813.2 284.4,813.2 291.6,813.2 298.9,813.2 306.1,813.2 313.4,813.2 320.6,813.2 327.9,813.2 335.1,813.2 342.4,813.2 349.6,813.2 356.9,813.2 364.1,813.2 371.4,813.2 378.6,813.2 385.9,813.2 393.1,745.3 400.4,724.7 407.6,709.0 414.9,695.9 422.1,684.3 429.4,673.8 436.6,664.2 443.8,655.2 451.1,646.7 458.3,638.7 465.6,631.0 472.8,623.7 480.1,616.7 487.3,609.9 494.6,603.3 501.8,597.0 509.1,590.8 516.3,584.9 523.6,579.0 530.8,573.3 538.1,567.8 545.3,562.3 552.6,557.0 559.8,551.8 567.1,546.7 574.3,541.7 581.6,536.7 588.8,531.9 596.1,527.1 603.3,522.4 610.6,517.8 617.8,513.3"/>
<polyline points="45.2,813.2 52.4,813.2 59.7,813.2 66.9,813.2 74.2,813.2 81.4,813.2 88.7,813.2 95.9,813.2 103.2,813.2 110.4,813.2 117.7,813.2 124.9,813.2 132.2,813.2 139.4,813.2 146.7,813.2 153.9,813.2 161.2,813.2 168.4,813.2 175.7,813.2 182.9,813.2 190.2,813.2 197.4,813.2 204.7,813.2 211.9,813.2 219.2,813.2 226.4,813.2 233.6,813.2 240.9,813.2 248.1,813.2 255.4,813.2 262.6,813.2 269.9,813.2 277.1,813.2 284.4,813.2 291.6,813.2 298.9,813.2 306.1,813.2 313.4,813.2 320.6,813.2 327.9,813.2 335.1,813.2 342.4,813.2 349.6,813.2 356.9,813.2 364.1,813.2 371.4,813.2 378.6,813.2 385.9,813.2 393.1,813.2 400.4,813.2 407.6,813.2 414.9,813.2 422.1,813.2 429.4,813.2 436.6,813.2 443.8,778.8 451.1,742.5 458.3,723.2 465.6,708.1 472.8,695.3 480.1,683.9 487.3,673.6 494.6,664.1 501.8,655.2 509.1,646.8 516.3,638.9 523.6,631.3 530.8,624.0 538.1,617.0 545.3,610.3 552.6,603.8 559.8,597.5 567.1,591.3 574.3,585.4 581.6,579.6 588.8,573.9 596.1,568.4 603.3,562.9 610.6,557.6 617.8,552.4"/>
<polyline points="45.2,813.2 52.4,813.2 59.7,813.2 66.9,813.2 74.2,813.2 81.4,813.2 88.7,813.2 95.9,813.2 103.2,813.2 110.4,813.2 117.7,813.2 124.9,813.2 132.2,813.2 139.4,813.2 146.7,813.2 153.9,813.2 161.2,813.2 168.4,813.2 175.7,813.2 182.9,813.2 190.2,813.2 197.4,813.2 204.7,813.2 211.9,813.2 219.2,813.2 226.4,813.2 233.6,813.2 240.9,813.2 248.1,813.2 255.4,813.2 262.6,813.2 269.9,813.2 277.1,813.2 284.4,813.2 291.6,813.2 298.9,813.2 306.1,813.2 313.4,813.2 320.6,813.2 327.9,813.2 335.1,813.2 342.4,813.2 349.6,813.2 356.9,813.2 364.1,813.2 371.4,813.2 378.6,813.2 385.9,813.2 393.1,813.2 400.4,813.2 407.6,813.2 414.9,813.2 422.1,813.2 429.4,813.2 436.6,813.2 443.8,813.2 451.1,813.2 458.3,813.2 465.6,813.2 472.8,813.2 480.1,813.2 487.3,813.2 494.6,813.2 501.8,769.2 509.1,740.0 516.3,721.8 523.6,707.2 530.8,694.7 538.1,683.6 545.3,673.4 552.6,664.0 559.8,655.2 567.1,646.9 574.3,639.0 581.6,631.5 588.8,624.3 596.1,617.4 603.3,610.7 610.6,604.2 617.8,597.9"/>
<polyline points="45.2,813.2 52.4,813.2 59.7,813.2 66.9,813.2 74.2,813.2 81.4,813.2 88.7,813.2 95.9,813.2 103.2,813.2 110.4,813.2 117.7,813.2 124.9,813.2 132.2,813.2 139.4,813.2 146.7,813.2 153.9,813.2 161.2,813.2 168.4,813.2 175.7,813.2 182.9,813.2 190.2,813.2 197.4,813.2 204.7,813.2 211.9,813.2 219.2,813.2 226.4,813.2 233.6,813.2 240.9,813.2 248.1,813.2 255.4,813.2 262.6,813.2 269.9,813.2 277.1,813.2 284.4,813.2 291.6,813.2 298.9,813.2 306.1,813.2 313.4,813.2 320.6,813.2 327.9,813.2 335.1,813.2 342.4,813.2 349.6,813.2 356.9,813.2 364.1,813.2 371.4,813.2 378.6,813.2 385.9,813.2 393.1,813.2 400.4,813.2 407.6,813.2 414.9,813.2 422.1,813.2 429.4,813.2 436.6,813.2 443.8,813.2 451.1,813.2 458.3,813.2 465.6,813.2 472.8,813.2 480.1,813.2 487.3,813.2 494.6,813.2 501.8,813.2 509.1,813.2 516.3,813.2 523.6,813.2 530.8,813.2 538.1,813.2 545.3,813.2 552.6,813.2 559.8,763.2 567.1,737.8 574.3,720.5 581.6,706.4 588.8,694.2 596.1,683.2 603.3,673.2 610.6,663.9 617.8,655.2"/>
</g>
<defs>
<marker id="m10" markerWidth="8" markerHeight="8" refX="4" refY="4" markerUnits="userSpaceOnUse"><circle cx="4" cy="4" r="2.65" fill="none" stroke="#4743e7" stroke-width="1.05"/></marker>
<marker id="m11" markerWidth="8" markerHeight="8" refX="4" refY="4" markerUnits="userSpaceOnUse"><circle cx="4" cy="4" r="2.65" fill="none" stroke="#4747eb" stroke-width="1.05"/></marker>
<marker id="m12" markerWidth="8" markerHeight="8" refX="4" refY="4" markerUnits="userSpaceOnUse"><circle cx="4" cy="4" r="2.65" fill="none" stroke="#484bee" stroke-width="1.05"/></marker>
<marker id="m13" markerWidth="8" markerHeight="8" refX="4" refY="4" markerUnits="userSpaceOnUse"><circle cx="4" cy="4" r="2.65" fill="none" stroke="#484ef1" stroke-width="1.05"/></marker>
<marker id="m14" markerWidth="8" markerHeight="8" refX="4" refY="4" markerUnits="userSpaceOnUse"><circle cx="4" cy="4" r="2.65" fill="none" stroke="#4852f4" stroke-width="1.05"/></marker>
<marker id="m15" markerWidth="8" markerHeight="8" refX="4" refY="4" markerUnits="userSpaceOnUse"><circle cx="4" cy="4" r="2.65" fill="none" stroke="#4755f6" stroke-width="1.05"/></marker>
<marker id="m16" markerWidth="8" markerHeight="8" refX="4" refY="4" markerUnits="userSpaceOnUse"><circle cx="4" cy="4" r="2.65" fill="none" stroke="#4759f8" stroke-width="1.05"/></marker>
<marker id="m17" markerWidth="8" markerHeight="8" refX="4" refY="4" markerUnits="userSpaceOnUse"><circle cx="4" cy="4" r="2.65" fill="none" stroke="#475cfa" stroke-width="1.05"/></marker>
<marker id="m18" markerWidth="8" markerHeight="8" refX="4" refY="4" markerUnits="userSpaceOnUse"><circle cx="4" cy="4" r="2.65" fill="none" stroke="#4660fc" stroke-width="1.05"/></marker>
<marker id="m19" markerWidth="8" markerHeight="8" refX="4" refY="4" markerUnits="userSpaceOnUse"><circle cx="4" cy="4" r="2.65" fill="none" stroke="#4564fd" stroke-width="1.05"/></marker>
<marker id="m20" markerWidth="8" markerHeight="8" refX="4" refY="4" markerUnits="userSpaceOnUse"><circle cx="4" cy="4" r="2.65" fill="none" stroke="#4368fd" stroke-width="1.05"/></marker>
<marker id="m22" markerWidth="8" markerHeight="8" refX="4" refY="4" markerUnits="userSpaceOnUse"><circle cx="4" cy="4" r="2.65" fill="none" stroke="#3e6fff" stroke-width="1.05"/></marker>
<marker id="m23" markerWidth="8" markerHeight="8" refX="4" refY="4" markerUnits="userSpaceOnUse"><circle cx="4" cy="4" r="2.65" fill="none" stroke="#3a73fe" stroke-width="1.05"/></marker>
<marker id="m24" markerWidth="8" markerHeight="8" refX="4" refY="4" markerUnits="userSpaceOnUse"><circle cx="4" cy="4" r="2.65" fill="none" stroke="#3777fe" stroke-width="1.05"/></marker>
<marker id="m25" markerWidth="8" markerHeight="8" refX="4" refY="4" markerUnits="userSpaceOnUse"><circle cx="4" cy="4" r="2.65" fill="none" stroke="#337bfc" stroke-width="1.05"/></marker>
<marker id="m26" markerWidth="8" markerHeight="8" refX="4" refY="4" markerUnits="userSpaceOnUse"><circle cx="4" cy="4" r="2.65" fill="none" stroke="#307ffb" stroke-width="1.05"/></marker>
<marker id="m27" markerWidth="8" markerHeight="8" refX="4" refY="4" markerUnits="userSpaceOnUse"><circle cx="4" cy="4" r="2.65" fill="none" stroke="#2f82f9" stroke-width="1.05"/></marker>
<marker id="m28" markerWidth="8" markerHeight="8" refX="4" refY="4" markerUnits="userSpaceOnUse"><circle cx="4" cy="4" r="2.65" fill="none" stroke="#2e86f7" stroke-width="1.05"/></marker>
<marker id="m29" markerWidth="8" markerHeight="8" refX="4" refY="4" markerUnits="userSpaceOnUse"><circle cx="4" cy="4" r="2.65" fill="none" stroke="#2d89f5" stroke-width="1.05"/></marker>
<marker id="m30" markerWidth="8" markerHeight="8" refX="4" refY="4" markerUnits="userSpaceOnUse"><circle cx="4" cy="4" r="2.65" fill="none" stroke="#2d8df2" stroke-width="1.05"/></marker>
<marker id="m31" markerWidth="8" markerHeight="8" refX="4" refY="4" markerUnits="userSpaceOnUse"><circle cx="4" cy="4" r="2.65" fill="none" stroke="#2c90f0" stroke-width="1.05"/></marker>
<marker id="m32" markerWidth="8" markerHeight="8" refX="4" refY="4" markerUnits="userSpaceOnUse"><circle cx="4" cy="4" r="2.65" fill="none" stroke="#2a93ed" stroke-width="1.05"/></marker>
<marker id="m33" markerWidth="8" markerHeight="8" refX="4" refY="4" markerUnits="userSpaceOnUse"><circle cx="4" cy="4" r="2.65" fill="none" stroke="#2797eb" stroke-width="1.05"/></marker>
<marker id="m34" markerWidth="8" markerHeight="8" refX="4" refY="4" markerUnits="userSpaceOnUse"><circle cx="4" cy="4" r="2.65" fill="none" stroke="#269ae9" stroke-width="1.05"/></marker>
<marker id="m35" markerWidth="8" markerHeight="8" refX="4" refY="4" markerUnits="userSpaceOnUse"><circle cx="4" cy="4" r="2.65" fill="none" stroke="#259de7" stroke-width="1.05"/></marker>
<marker id="m36" markerWidth="8" markerHeight="8" refX="4" refY="4" markerUnits="userSpaceOnUse"><circle cx="4" cy="4" r="2.65" fill="none" stroke="#23a0e5" stroke-width="1.05"/></marker>
<marker id="m37" markerWidth="8" markerHeight="8" refX="4" refY="4" markerUnits="userSpaceOnUse"><circle cx="4" cy="4" r="2.65" fill="none" stroke="#21a3e4" stroke-width="1.05"/></marker>
<marker id="m38" markerWidth="8" markerHeight="8" refX="4" refY="4" markerUnits="userSpaceOnUse"><circle cx="4" cy="4" r="2.65" fill="none" stroke="#1fa6e2" stroke-width="1.05"/></marker>
<marker id="m39" markerWidth="8" markerHeight="8" refX="4" refY="4" markerUnits="userSpaceOnUse"><circle cx="4" cy="4" r="2.65" fill="none" stroke="#1da8e0" stroke-width="1.05"/></marker>
<marker id="m40" markerWidth="8" markerHeight="8" refX="4" refY="4" markerUnits="userSpaceOnUse"><circle cx="4" cy="4" r="2.65" fill="none" stroke="#1babde" stroke-width="1.05"/></marker>
<marker id="m41" markerWidth="8" markerHeight="8" refX="4" refY="4" markerUnits="userSpaceOnUse"><circle cx="4" cy="4" r="2.65" fill="none" stroke="#18aedb" stroke-width="1.05"/></marker>
<marker id="m42" markerWidth="8" markerHeight="8" refX="4" refY="4" markerUnits="userSpaceOnUse"><circle cx="4" cy="4" r="2.65" fill="none" stroke="#13b0d7" stroke-width="1.05"/></marker>
<marker id="m43" markerWidth="8" markerHeight="8" refX="4" refY="4" markerUnits="userSpaceOnUse"><circle cx="4" cy="4" r="2.65" fill="none" stroke="#0eb2d4" stroke-width="1.05"/></marker>
<marker id="m44" markerWidth="8" markerHeight="8" refX="4" refY="4" markerUnits="userSpaceOnUse"><circle cx="4" cy="4" r="2.65" fill="none" stroke="#08b5d0" stroke-width="1.05"/></marker>
<marker id="m45" markerWidth="8" markerHeight="8" refX="4" refY="4" markerUnits="userSpaceOnUse"><circle cx="4" cy="4" r="2.65" fill="none" stroke="#03b7cc" stroke-width="1.05"/></marker>
<marker id="m46" markerWidth="8" markerHeight="8" refX="4" refY="4" markerUnits="userSpaceOnUse"><circle cx="4" cy="4" r="2.65" fill="none" stroke="#01b8c8" stroke-width="1.05"/></marker>
<marker id="m47" markerWidth="8" markerHeight="8" refX="4" refY="4" markerUnits="userSpaceOnUse"><circle cx="4" cy="4" r="2.65" fill="none" stroke="#02bac4" stroke-width="1.05"/></marker>
<marker id="m48" markerWidth="8" markerHeight="8" refX="4" refY="4" markerUnits="userSpaceOnUse"><circle cx="4" cy="4" r="2.65" fill="none" stroke="#07bcc0" stroke-width="1.05"/></marker>
<marker id="m49" markerWidth="8" markerHeight="8" refX="4" refY="4" markerUnits="userSpaceOnUse"><circle cx="4" cy="4" r="2.65" fill="none" stroke="#0ebdbb" stroke-width="1.05"/></marker>
<marker id="m50" markerWidth="8" markerHeight="8" refX="4" refY="4" markerUnits="userSpaceOnUse"><circle cx="4" cy="4" r="2.65" fill="none" stroke="#16bfb7" stroke-width="1.05"/></marker>
<marker id="m51" markerWidth="8" markerHeight="8" refX="4" refY="4" markerUnits="userSpaceOnUse"><circle cx="4" cy="4" r="2.65" fill="none" stroke="#1ec0b2" stroke-width="1.05"/></marker>
<marker id="m52" markerWidth="8" markerHeight="8" refX="4" refY="4" markerUnits="userSpaceOnUse"><circle cx="4" cy="4" r="2.65" fill="none" stroke="#25c2ae" stroke-width="1.05"/></marker>
<marker id="m53" markerWidth="8" markerHeight="8" refX="4" refY="4" markerUnits="userSpaceOnUse"><circle cx="4" cy="4" r="2.65" fill="none" stroke="#2ac3a9" stroke-width="1.05"/></marker>
<marker id="m54" markerWidth="8" markerHeight="8" refX="4" refY="4" markerUnits="userSpaceOnUse"><circle cx="4" cy="4" r="2.65" fill="none" stroke="#2ec4a4" stroke-width="1.05"/></marker>
<marker id="m55" markerWidth="8" markerHeight="8" refX="4" refY="4" markerUnits="userSpaceOnUse"><circle cx="4" cy="4" r="2.65" fill="none" stroke="#31c69f" stroke-width="1.05"/></marker>
<marker id="m56" markerWidth="8" markerHeight="8" refX="4" refY="4" markerUnits="userSpaceOnUse"><circle cx="4" cy="4" r="2.65" fill="none" stroke="#35c79a" stroke-width="1.05"/></marker>
<marker id="m57" markerWidth="8" markerHeight="8" refX="4" refY="4" markerUnits="userSpaceOnUse"><circle cx="4" cy="4" r="2.65" fill="none" stroke="#39c995" stroke-width="1.05"/></marker>
<marker id="m58" markerWidth="8" markerHeight="8" refX="4" refY="4" markerUnits="userSpaceOnUse"><circle cx="4" cy="4" r="2.65" fill="none" stroke="#3eca8f" stroke-width="1.05"/></marker>
<marker id="m59" markerWidth="8" markerHeight="8" refX="4" refY="4" markerUnits="userSpaceOnUse"><circle cx="4" cy="4" r="2.65" fill="none" stroke="#45cb89" stroke-width="1.05"/></marker>
<marker id="m60" markerWidth="8" markerHeight="8" refX="4" refY="4" markerUnits="userSpaceOnUse"><circle cx="4" cy="4" r="2.65" fill="none" stroke="#4ccb82" stroke-width="1.05"/></marker>
<marker id="m61" markerWidth="8" markerHeight="8" refX="4" refY="4" markerUnits="userSpaceOnUse"><circle cx="4" cy="4" r="2.65" fill="none" stroke="#55cc7c" stroke-width="1.05"/></marker>
<marker id="m62" markerWidth="8" markerHeight="8" refX="4" refY="4" markerUnits="userSpaceOnUse"><circle cx="4" cy="4" r="2.65" fill="none" stroke="#5dcc75" stroke-width="1.05"/></marker>
<marker id="m63" markerWidth="8" markerHeight="8" refX="4" refY="4" markerUnits="userSpaceOnUse"><circle cx="4" cy="4" r="2.65" fill="none" stroke="#65cd6e" stroke-width="1.05"/></marker>
<marker id="m64" markerWidth="8" markerHeight="8" refX="4" refY="4" markerUnits="userSpaceOnUse"><circle cx="4" cy="4" r="2.65" fill="none" stroke="#6ecd67" stroke-width="1.05"/></marker>
<marker id="m65" markerWidth="8" markerHeight="8" refX="4" refY="4" markerUnits="userSpaceOnUse"><circle cx="4" cy="4" r="2.65" fill="none" stroke="#77cc60" stroke-width="1.05"/></marker>
<marker id="m66" markerWidth="8" markerHeight="8" refX="4" refY="4" markerUnits="userSpaceOnUse"><circle cx="4" cy="4" r="2.65" fill="none" stroke="#81cc59" stroke-width="1.05"/></marker>
<marker id="m67" markerWidth="8" markerHeight="8" refX="4" refY="4" markerUnits="userSpaceOnUse"><circle cx="4" cy="4" r="2.65" fill="none" stroke="#8acb52" stroke-width="1.05"/></marker>
<marker id="m68" markerWidth="8" markerHeight="8" refX="4" refY="4" markerUnits="userSpaceOnUse"><circle cx="4" cy="4" r="2.65" fill="none" stroke="#93ca4b" stroke-width="1.05"/></marker>
<marker id="m69" markerWidth="8" markerHeight="8" refX="4" refY="4" markerUnits="userSpaceOnUse"><circle cx="4" cy="4" r="2.65" fill="none" stroke="#9cc944" stroke-width="1.05"/></marker>
<marker id="m70" markerWidth="8" markerHeight="8" refX="4" refY="4" markerUnits="userSpaceOnUse"><circle cx="4" cy="4" r="2.65" fill="none" stroke="#a5c83d" stroke-width="1.05"/></marker>
<marker id="m71" markerWidth="8" markerHeight="8" refX="4" refY="4" markerUnits="userSpaceOnUse"><circle cx="4" cy="4" r="2.65" fill="none" stroke="#aec637" stroke-width="1.05"/></marker>
<marker id="m74" markerWidth="8" markerHeight="8" refX="4" refY="4" markerUnits="userSpaceOnUse"><circle cx="4" cy="4" r="2.65" fill="none" stroke="#c6c22a" stroke-width="1.05"/></marker>
<marker id="m75" markerWidth="8" markerHeight="8" refX="4" refY="4" markerUnits="userSpaceOnUse"><circle cx="4" cy="4" r="2.65" fill="none" stroke="#cec028" stroke-width="1.05"/></marker>
<marker id="m76" markerWidth="8" markerHeight="8" refX="4" refY="4" markerUnits="userSpaceOnUse"><circle cx="4" cy="4" r="2.65" fill="none" stroke="#d5be28" stroke-width="1.05"/></marker>
<marker id="m77" markerWidth="8" markerHeight="8" refX="4" refY="4" markerUnits="userSpaceOnUse"><circle cx="4" cy="4" r="2.65" fill="none" stroke="#dcbd29" stroke-width="1.05"/></marker>
<marker id="m79" markerWidth="8" markerHeight="8" refX="4" refY="4" markerUnits="userSpaceOnUse"><circle cx="4" cy="4" r="2.65" fill="none" stroke="#e9bb30" stroke-width="1.05"/></marker>
<marker id="m80" markerWidth="8" markerHeight="8" refX="4" refY="4" markerUnits="userSpaceOnUse"><circle cx="4" cy="4" r="2.65" fill="none" stroke="#efba35" stroke-width="1.05"/></marker>
<marker id="m81" markerWidth="8" markerHeight="8" refX="4" refY="4" markerUnits="userSpaceOnUse"><circle cx="4" cy="4" r="2.65" fill="none" stroke="#f4ba3a" stroke-width="1.05"/></marker>
<marker id="m82" markerWidth="8" markerHeight="8" refX="4" refY="4" markerUnits="userSpaceOnUse"><circle cx="4" cy="4" r="2.65" fill="none" stroke="#f9bb3d" stroke-width="1.05"/></marker>
<marker id="m83" markerWidth="8" markerHeight="8" refX="4" refY="4" markerUnits="userSpaceOnUse"><circle cx="4" cy="4" r="2.65" fill="none" stroke="#fdbd3d" stroke-width="1.05"/></marker>
<marker id="m84" markerWidth="8" markerHeight="8" refX="4" refY="4" markerUnits="userSpaceOnUse"><circle cx="4" cy="4" r="2.65" fill="none" stroke="#fec03a" stroke-width="1.05"/></marker>
<marker id="m85" markerWidth="8" markerHeight="8" refX="4" refY="4" markerUnits="userSpaceOnUse"><circle cx="4" cy="4" r="2.65" fill="none" stroke="#fec438" stroke-width="1.05"/></marker>
<marker id="m86" markerWidth="8" markerHeight="8" refX="4" refY="4" markerUnits="userSpaceOnUse"><circle cx="4" cy="4" r="2.65" fill="none" stroke="#fec835" stroke-width="1.05"/></marker>
<marker id="m87" markerWidth="8" markerHeight="8" refX="4" refY="4" markerUnits="userSpaceOnUse"><circle cx="4" cy="4" r="2.65" fill="none" stroke="#fdcc32" stroke-width="1.05"/></marker>
<marker id="m89" markerWidth="8" markerHeight="8" refX="4" refY="4" markerUnits="userSpaceOnUse"><circle cx="4" cy="4" r="2.65" fill="none" stroke="#fbd42e" stroke-width="1.05"/></marker>
<marker id="m91" markerWidth="8" markerHeight="8" refX="4" refY="4" markerUnits="userSpaceOnUse"><circle cx="4" cy="4" r="2.65" fill="none" stroke="#f7dc2a" stroke-width="1.05"/></marker>
<marker id="m92" markerWidth="8" markerHeight="8" refX="4" refY="4" markerUnits="userSpaceOnUse"><circle cx="4" cy="4" r="2.65" fill="none" stroke="#f6e028" stroke-width="1.05"/></marker>
<marker id="m93" markerWidth="8" markerHeight="8" refX="4" refY="4" markerUnits="userSpaceOnUse"><circle cx="4" cy="4" r="2.65" fill="none" stroke="#f5e427" stroke-width="1.05"/></marker>
<marker id="m94" markerWidth="8" markerHeight="8" refX="4" refY="4" markerUnits="userSpaceOnUse"><circle cx="4" cy="4" r="2.65" fill="none" stroke="#f5e825" stroke-width="1.05"/></marker>
<marker id="m95" markerWidth="8" markerHeight="8" refX="4" refY="4" markerUnits="userSpaceOnUse"><circle cx="4" cy="4" r="2.65" fill="none" stroke="#f5ec22" stroke-width="1.05"/></marker>
<marker id="m96" markerWidth="8" markerHeight="8" refX="4" refY="4" markerUnits="userSpaceOnUse"><circle cx="4" cy="4" r="2.65" fill="none" stroke="#f6f020" stroke-width="1.05"/></marker>
<marker id="m97" markerWidth="8" markerHeight="8" refX="4" refY="4" markerUnits="userSpaceOnUse"><circle cx="4" cy="4" r="2.65" fill="none" stroke="#f7f31d" stroke-width="1.05"/></marker>
<marker id="m98" markerWidth="8" markerHeight="8" refX="4" refY="4" markerUnits="userSpaceOnUse"><circle cx="4" cy="4" r="2.65" fill="none" stroke="#f8f719" stroke-width="1.05"/></marker>
<marker id="m99" markerWidth="8" markerHeight="8" refX="4" refY="4" markerUnits="userSpaceOnUse"><circle cx="4" cy="4" r="2.65" fill="none" stroke="#f9fb15" stroke-width="1.05"/></marker>
</defs>
<g clip-path="url(#ax)" fill="none" stroke="none">
<polyline points="217.6,573.8 240.6,505.6 232.8,522.9 226.7,535.7 274.4,457.6 272.3,461.3 224.2,550.3 221.6,563 225.3,553.3 229.8,529.2 242.9,492.2 224.4,551.8 223,551.1 225.6,542.2 294,434.5 225.3,547.3" marker-start="url(#m10)" marker-mid="url(#m10)" marker-end="url(#m10)"/>
<polyline points="229.1,529.4 221,566.4 248.9,484.6 245.4,486.7 225.8,540.8 217,573.9 283.4,445.3 233.4,524.7 226.7,542.8 221.5,562.5 238.5,496.3 222,558.6 263.1,469.5 271.2,460.8 222,563.2 311.7,418.6 275.1,454 221.7,557.3 222.4,559 227.8,541.3 223,560.5 231.7,525.8 225.2,545.9 230.1,528 251.3,482.2" marker-start="url(#m11)" marker-mid="url(#m11)" marker-end="url(#m11)"/>
<polyline points="254,479.8 224.2,551.7 219.7,565.3 306.7,423.2 238.9,507.2 228.5,539.1 219.7,571.3 223.2,555.1 233.8,522 235.3,507.6 217.5,572.8 507.9,159.9 507.1,162.2 506.8,165.2 508.6,160.7 507.9,163.7 317.3,416.6 226.1,548.3 223.2,552.4 343.9,395.4 248.6,481.5 517.1,212.3 384.5,360.1 262.4,471.9 236.3,517.5 227.1,537.7 481.8,289.4 413.4,338.5 366.3,376.9 229.4,536 282.3,448.1 334.7,403.4 230.8,528.8 396.7,351.8 221.6,564.4 519.2,215.9 465.4,298.1 252.7,481.6 519.6,213.6 456.4,306.8 223.2,552.9 350.3,388.6 222.3,563.9 221,565.1 384.5,360 271.9,456.7 445,315.6 474.3,293.4 519.2,212.2 405.2,344.8 392.9,355.5 427.3,327.7 457.7,304.1 219.6,568.3 225.5,540.1 241,503 518,210.8 237.5,496.5 452.5,309.7 299.6,430.4 368.9,375.3 230.1,532.5 228.6,539.1 410.8,340.1 302,426.7 272.6,455.6 417.4,335.3 521.3,211.2 359.9,381.4 366,376.5 471.9,293.9 283.8,446.6 230.7,528.3 220.9,567.1 376,368.8 239,506.8 287.2,443.3 358.6,381.4 235.5,506.2 236,519.6" marker-start="url(#m12)" marker-mid="url(#m12)" marker-end="url(#m12)"/>
<polyline points="518.6,209.3 231.3,524.6 453.3,308.6 240.1,505.3 372.2,372 333.1,404.8 228.4,532.6 238.5,511.9 520.6,212.7 485.6,286.4 221.8,564.6 517.1,214.5 518.7,211.9 519.7,217.6 246.4,486.7 519.4,213.7 426.1,329.6 237.1,514.3 317,415.9 242.3,504.4 367.9,373.9 520.3,215.6 516,260.3 520.2,210.1 497.1,280.2 497.8,277.1 324.3,410.8 225.4,545.7 466.4,298.5 540.9,223.7 513.7,264.2 526.8,229.6 482.7,288.4 395.9,352.1 292.5,437.1 288.7,438.5 440.1,319.3 519,214 229.7,536.7 559,175.9 241.2,501 416.7,335.2 519.6,213.9 347,394.5 520.6,214.9 533.2,234.3 515.9,260.1 519.4,213.8 226.4,537.3 257.9,473 478,290.6 433,324 557.5,170.8 230.4,529.3 537.9,223.7 222.1,560.8 284.9,445.7 225.1,549.5 220.2,566 367.7,374.6 361.7,379.4 555.8,186.8 520.2,212.9 519.3,210.8 255.1,479.5 222.2,565 499.1,278.6 507.2,272.1 244.2,490.8 478.1,291.6 222.8,561.5 220.9,566.4 528.7,240.9 515.9,259 518.8,214.8 284,444.8 236.3,517 454.5,306.7 223,552.2 448,313.3 521.8,204.8 519.1,214.7 237.8,497.1 276.4,453.7 226.9,544.4 218.6,566.9 237.6,501.9 524.8,216.2 557.8,173.2 314.6,418.7 522,190.8 445.2,315.2 241.8,505.3 219.8,570.8 517.6,214.8 367.6,376.1 447.6,312.7 524.8,207.7 546,216.4 517.5,213.8 225,546.4" marker-start="url(#m13)" marker-mid="url(#m13)" marker-end="url(#m13)"/>
<polyline points="532.8,232.8 223.5,557.4 521,215.3 555.7,191.4 519.4,256.5 335.7,402.4 442.8,315.7 471.9,294.7 521.8,222.1 437,320.3 520.9,215 521.2,212 241.8,500.4 528.8,228.1 558.9,186.8 377.2,366.5 556.9,183.6 518.6,215.9 509,268.1 523,202.5 346,393.8 326.5,408.3 220.9,563.4 518.9,255.9 222.2,554.7 288.4,441.8 224.5,556.4 330.1,407.3 518.4,213.9 519.5,214.8 371,372.4 523.5,194.8 393.8,352.8 262,468.2 545.8,214.2 235.7,503.7 518.2,216.8 285.9,444.3 514.7,176.2 236.1,510.6 519.3,181.4 225.6,540.1 460.3,303 528.1,240.2 524.6,246.3 558.4,184.8 522.8,192.8 356.1,385.2 519.1,256.6 517,178.8 370.2,372.8 521.3,188.9 234.1,522.7 452.3,308.8 518.8,255.1 520.2,215.6 549.8,209.8 367.4,376.5 451.5,309.5 227.7,541.9 262,469.4 502.2,274 511.8,264.9 545.4,215.4 524.3,196.8 520.6,187 286.8,441 239.8,495.7 502.8,275.9 409.8,340 226.7,545.4 503.8,272.8 518.7,213 511.8,267.1 243.8,490.3 216.7,574.2 551.9,205.6 520.5,211 518.9,214.5 534.7,231 554.9,197 504.9,272.4 521.6,250.9 218.7,567.6 220.8,563.1 518.6,255.5 427.8,327.1 456.6,306.6 509.4,269.3 557.8,168.9 436.1,321.9 509.8,267.6 218.3,570.9 518.2,211.1 529.4,236 223.8,552.2 510.6,266 558.7,175 489.2,284.8 389.4,356.9 531.7,228.6 518.6,218.4 359.7,382.1 535.6,229.5 309.1,419.9 225,547.7 547.4,213 304.5,428 525.6,242.5" marker-start="url(#m14)" marker-mid="url(#m14)" marker-end="url(#m14)"/>
<polyline points="532.3,232.3 519.1,253 502.2,274.3 472.9,295.2 499.2,279.3 325.5,410.7 463.8,300.9 532.3,232.5 256.7,475.9 280.5,449 345.3,394.3 518.5,214.3 519.2,214.1 425.8,329.7 539.2,223.7 540.8,222 525.3,200.8 225.2,542.3 541.2,222.4 524.3,222.1 556.7,177.2 226.7,536.1 535.6,229.4 328,407.6 300,431.8 526.2,244.6 411.6,339.9 519.8,184.9 535.2,230.7 463,300.8 242.1,504.9 290.8,439.4 423.5,330.1 516.1,211.8 531.7,200.1 531.7,212.1 534.7,218.1 533.2,222.6 534.7,192.6 545.9,200.1 513.2,150.5 512.9,165.2 520.7,161.4 534.7,192.3 531.5,200.3 531.9,211.7 534.7,217.7 533.2,222.6 546.1,199.8 512.8,266 320.4,413.2 501.6,273.9 347.3,393.5 293.4,439.1 508.3,271 305.8,423.9 538.9,225.5 531.7,235 398.8,351 231.9,525.4 267.9,460.7 328.4,407.6 529.7,236.8 222,560.3 541.7,220.5 287.3,439.8 286,443.9 278.7,451.2 495.1,280.7 500.4,275.3 518.4,256.3 558,167.4 494.1,282.1 238.3,507.3 518.8,257.4 519.3,257.2 397.9,351.2 455.6,305.9 309.1,420.3 521.5,250.4 240.3,505.8 554.6,198.3 457.6,304.9 225.3,547.1 272.7,455 220,567.7 539.8,222.4 474.1,293.6 225,550.3 398,350.2 442.7,316.7 268.9,464.3 523.8,248.1 334.5,403.4 377.3,367.4 224.1,555.5 338.4,401 222.7,560.6 291.4,439.1 533.9,231.2 283.3,444.8 219.9,567.3 545,216.5 276.8,451.3" marker-start="url(#m15)" marker-mid="url(#m15)" marker-end="url(#m15)"/>
<polyline points="422.4,331 225,550.9 306,424.3 493.2,282 338.1,401.7 556.6,170.9 265.1,466.3 350.7,388.9 243.1,504.9 230.5,530.8 248.4,487.2 461.2,302.4 254.7,478.4 219,572.5 236.2,520 514.8,264.3 522.1,248.5 225.6,550.2 221.7,564.3 498.4,278.3 342.5,397.3 544.1,219.3 546.3,216.1 558.6,169.6 340.3,397.7 338.6,397.9 379.1,366.2 264.4,468.1 480.1,290.8 502.8,275 361.4,379.1 487.2,285.2 509.1,267.5 543.7,217.2 472.8,293.5 407.3,343.3 421.2,333.2 318,416.4 556.3,194.7 335.4,402 383.9,359.7 539.1,222.7 222.8,554.1 475.3,292.8 234,523.4 541.6,221 223.2,555 219.7,568.5 522.3,250.9 506.7,270.2 494.4,280.6 520.6,252.4 496.5,280 223.1,560.7 525.5,244 339.7,399.8 396.7,352.1 529.2,237.4 219.9,568.9 543.2,219.3 225.5,550.1 445.4,314.5 241.5,507.8 343.9,395.8 314.6,419.4 222.7,552.2 505.6,271.1 558.3,174.9 337.2,399.5 518.2,254.8 520.3,251.6 238.7,507.9 220.6,564.6 223.8,545.9" marker-start="url(#m16)" marker-mid="url(#m16)" marker-end="url(#m16)"/>
<polyline points="315.6,416.3 355.2,384.5 529.7,238.6 522.6,248.2 499.7,277.9 367.1,375.6 241,502 524.2,249.1 464.7,300.2 239.9,510.5 431.5,324.6 347.5,392.3 504.4,274.8 495,280.1 224,550 319.5,414.1 226,537.7 544.8,217.9 412.3,338.6 368.1,374.4 362.8,378.8 540.7,222.1 324.5,410.6 238.6,512.5 505.8,271.4 494.4,282.8 497.4,278.6 414.9,337.6 464.2,299.6 223.8,553.8 501.8,275.9 225,554.7 220.3,567.3 378.8,366.1 498.8,277.5 526.4,244.7 524.5,246.8 229.2,529.8 405.9,343.7 217.2,574.1 519,254.2 391.4,355.2 365.1,376.4 234.1,522.2 224.6,557.8 395.7,351.6 487.7,285.5 399.6,349.4 393.7,353.4 423.3,330.7 407.6,342.9 445.8,314.2 487.9,284.6 399,349.3 507.3,269.8 354,386.8 342.6,398.3 532.9,234.3 224.2,557.6 534.1,231.6 360.5,380.7 537.3,227.9 239.5,505.2" marker-start="url(#m17)" marker-mid="url(#m17)" marker-end="url(#m17)"/>
<polyline points="418.5,334.4 329.5,408.1 434.6,323.2 517.7,256.3 351.2,388.4 546.7,216.4 477.2,291.7 490.9,283.3 535.9,227.2 432.8,324.4 218.1,572.8 491.6,283.1 225.5,550.1 335.3,402 224.6,551.2 231.9,525.6 221.8,562.4 490.6,284.4 500.8,277.2 329.2,408.5 218.1,573.1 217.2,574.2 523.4,248.8 219.8,568.8 519.5,253.5 542.9,222.4 509.6,268.5 545.8,217.9 521.5,249.9 534.6,231.9 497.9,278 516.1,258.6 518.5,257.6 541,225.4 515.9,258.3 545.1,217.1 517.7,256.7 541.3,220.7 522.4,251" marker-start="url(#m18)" marker-mid="url(#m18)" marker-end="url(#m18)"/>
<polyline points="523.3,247.3 508.6,269.5 500.6,278.2 498,277.2 528.6,237.3 535,231.1 541.2,222.3 513,265.9 539.1,223.7 515.1,262.5 538.4,224.5" marker-start="url(#m19)" marker-mid="url(#m19)" marker-end="url(#m19)"/>
<polyline points="544,152.4 547.7,154.7" marker-start="url(#m20)" marker-mid="url(#m20)" marker-end="url(#m20)"/>
<polyline points="507.1,270.7 497.4,277.9 529.4,240.1 520.5,252.3 542,221.3 497.9,276.5 502,274.8 544.1,215.9 546.1,215.4 521,250.9 541.3,223.8 518.7,258 539.6,222.6 519.6,253.2 539.5,223.4 511.3,267.9" marker-start="url(#m22)" marker-mid="url(#m22)" marker-end="url(#m22)"/>
<polyline points="530.4,236.5 531.5,233.3 521.6,250.7 518.3,254.6 524,247.1 515.3,260.9 533.7,232.2 506,270.4 518.3,256.1 513.8,262.4 523.5,248 524.6,245.3 534.1,230.7 518.3,256.1 523.6,246 546.3,216.8 525.4,244.8 513.3,265.1 520.8,252.8 546.2,216.2 536.7,226.5 498,277.1 530.4,235.4" marker-start="url(#m23)" marker-mid="url(#m23)" marker-end="url(#m23)"/>
<polyline points="540.1,221.8 545.7,216.1 483.6,288.3 490.3,283.1 343.1,396.3 288.1,442.6 420.9,330.3 512.1,263.9 308.4,424 393,354.7 436.1,320 245.2,487.9 391.2,353.6 335.6,398 344.3,394.2 357,382.1 332.7,403.6 473.5,293 228.4,532.7 319.3,413.5 320.9,408.7 249.2,484.2 237.1,504.8 239.8,500.8 215.7,571.8 369.6,370.4 468.3,296.7 223.8,552.1 324.2,408.5 218.1,572.5 227.6,537.9 257.3,479.4 486.6,286.5 407.4,342.1 533.5,230.2 240.6,494.2 406.5,341.7 219.3,567.8 478.1,290.5 431,324.1 244.8,490.5 522,248.3 241.3,501.2 502.1,273.5 224.1,550.9 416.6,333.5 244,491.6 214.6,582.1 344.6,395.3 488.7,282.9 224.6,545.1 445.1,315.3 322.2,409.8 462.9,299.6 329.8,404.6 447,311.4 498.6,277.1 412.6,340.8 329.1,403.3 468.1,296.3 216.5,567 378.1,363.8 488.2,283.9 324.1,406.9 441.3,316.6 212.1,583.6 364.2,374 316.8,414.6 336.2,401.5 307.8,422.5 490.4,283.2 335.5,398.1 287.7,444.8 361.5,374.8 412.6,337.3 531.4,233.4 481.4,289 222.7,551.4 410.7,340.5 223,549.5 453.8,307.7 402.5,345.8 353.2,384.2 339.4,396.8 294.6,435.5 493.8,280.5 282.1,447 341.7,398.1 456.4,304.9 411.9,339.1 378.8,361.4 464.2,300.3 434.7,322.2 351.3,386.5 338.8,398.3 510.2,268 326.3,407.6 228.5,537.3 420.2,332.5 273.1,460.7 221.1,556.4 320.7,410.3 324.7,407.3 532.9,230.7 225.2,548.6 316,413.7 212.8,583.8 282.8,447.4 256.2,479.5 497.1,278.7 279.3,453.1 310.4,421.6 215.2,576 517.8,256.4 507.7,268.9 341.4,395.9 413.2,336.4 219,560.5 222.1,554.9 265.8,467.3 259.9,475.5 452.1,309.3 370.4,370.8 230.9,529.6 379.9,362.9 448.5,312.3 469.8,295 441.6,316.9 363.2,378.1 215.3,573.3 520.1,253.8 452.6,309.8 463.8,300.2 522.4,248.2 370.3,371.8 462.8,299.7 541,221.8 403.4,343.9 282.4,447 352.2,386.3 229.8,527.4 377.5,365.6 222.5,562.2 404.3,343.7 432.6,323.8 323.4,407.6 230.9,521.9 499.6,275.2 290.6,439.4 471.2,295.1 385.9,356.7 218,564.2 471.5,295.7 462.1,299.9 287,442.4 446.1,314.2 493.9,280.7" marker-start="url(#m24)" marker-mid="url(#m24)" marker-end="url(#m24)"/>
<polyline points="534.9,229.2 420,331.4 230.5,523.6 380.9,359.6 492.3,281.6 412.8,338.2 381.7,360.3 222.8,559.6 431.6,322.6 263.3,474.4 421.8,331.1 240.7,505.6 380.3,363.5 454.7,306.9 496.7,278.2 515.8,260 477.2,291.8 261,475.6 545.9,216.5 411.9,338.8 394.1,350.9 527.8,241.2 463.4,299.2 288.1,440.4 213.4,579.3 462.5,299.4 349.2,390.6 433.9,321.6 379,362.5 368.4,372.1 544.8,215.4 364.5,373.4 436.3,318.8 300.8,431.4 217.7,570.1 523.3,247.5 457.5,304.2 318.9,409.9 311.5,420 225,546.6 277.1,452.3 358.9,378.2 525.3,245.6 480.4,288.4 506.2,272.4 470,294.8 463.8,297.7 544.7,159.2 429.7,326.7 348.6,387.9 217,572.5 435.3,320.3 413.5,335.6 228.5,534.5 525,247 526.1,244.7 486.5,285.6 238.4,508.4 462.4,299.6 347,390.2 338.1,396.6 382.3,360.6 222.6,543.3 253.5,484.2 266.6,464.3 348,388.8 370.8,372.3 217.5,572.4 318.3,412.8 344.8,392.3 407.4,342.6 256.7,479.2 238.2,502.5 218,566.4 463.6,299.1 541.3,221 463.4,300.6 223.2,541.1 384.6,360.8 220.5,562.9 363.1,376.5 235.5,515.6 230.8,521.9 322.3,409 324.4,406.1 439.1,317.7 453.3,308.4 379.2,365.4 218,565.7 405.6,341.5 221.9,555.2 431.4,323.7 333.3,402.6 493.3,282.7 396.1,351.3 315.6,414.4 409.7,339.2 326.2,408.1 260.5,476.5 219.3,569 525.7,246.5 409.4,341.6 362.8,377.6 505.3,271.5 299.3,432.1 469.1,296.6 397.7,349.4 530.7,238.7 456.8,304 486.8,284.8 440.4,317.9 288.6,442.4 424.3,330.1 512.5,264.3 532,234 221,552.2 425.1,327.7 454.6,306.3 517.6,256.8 241.6,501 401.8,348.7 543.8,219.3 279.9,453.8 216.2,568.9 503.8,272.2 519.7,251.7 491.7,283.8 220.1,567.1 220.1,554.6 405.5,344.1 387.8,355.5 407.7,339.1 419.3,334.6 235.6,512.1 311.9,415.5 238.4,505.5 240,495.8 387.6,355.5 273.9,461.2 436.8,320.5 444.7,313 475.6,291.1 340.2,400 398.4,350.3 439.4,317.7 447.1,313.6 426,328.3 397.5,348.9 301.3,430.3 398.5,350.7 408.6,342 279.5,450 438.9,318.7 398,348.9 480.9,289.3 334.5,400.3 242.5,500.7 536.7,227.8 457.2,304.9 461.7,301.9 317.2,415.9 439,317.1 310.4,422.7 429,326.8 380.1,363.9 288.7,442.6 397.4,351.4 481.5,287.8 490.4,283.8 225.7,540.2 337,402.7 473.2,294.1 293.8,434.4 369.8,370.8 270.2,459.8 431,323.5 502.4,274.1 527.8,241.9 212.5,582.5 394.9,351.1 372.7,372.5 464.9,297.6 394.6,352.2 317.8,411.7 319,415.8 453.1,308.1" marker-start="url(#m25)" marker-mid="url(#m25)" marker-end="url(#m25)"/>
<polyline points="371.9,371.9 444,313.9 405.5,342.3 317.3,410.6 235.3,511.5 235.1,515 251.6,484.2 214.6,575.2 447.8,311 425.7,329.3 537.6,227.8 442.1,316.2 241.7,494.4 282.1,446 430.1,325.2 515.2,259.9 441.2,317.9 272.7,460.7 359.5,377.6 434.8,320.7 352.2,385.3 400,348.6 506.4,269.8 371.1,369.7 519.9,251.6 239,506.5 232,525.9 446.4,314.6 218.4,570.9 474.2,293.7 229.9,527.7 446.1,313.3 523.5,247.5 266.3,469.9 215.4,579.1 482.6,288.8 324.3,410.5 444.7,314.3 218.3,568 308.1,424.7 213.7,578.4 213.3,579.2 400.1,349 466.9,297.5 315.1,416.8 529.3,237 315.1,415.3 502.5,275.6 313.3,414.2 350,388.7 325.2,410.3 462.3,299.5 324.2,405.6 453.8,308.7 324.3,406.7 245.2,491.8 233.3,514.1 405.8,346 525.3,242.9 359.8,379.8 541.8,219.5 536.3,226.4 245.1,492.2 447.9,311.6 221.4,558.9 510.8,264.6 239.7,508.8 346.1,393.9 495.7,278.4 523.6,248.3 456,304.1 539.6,223.9 231.4,524.4 415.1,335 423.4,328.1 446.7,313.6 337.3,396.7 220.7,565.9 240.4,503.1 344.6,393 224.6,543.6 475.6,291.5 416.8,334.9 536.4,229.5 236.7,508.8 370.4,370.6 503.3,273.5 399.5,349.1 475,292.1 235.8,512 240.3,503.2 314,413.5 282.8,450.5 354.9,383.7 393,355.1 357.6,379.2 396,350 448.1,310.3 475.8,292.8 306.4,428.4 253.8,477.2 331.9,404.7 297.5,437.2 362.2,378.8 473.9,292.1 474,293.4 324.4,410.8 523.7,247.3 222,560.7 438.9,319 220.9,561.4 316.9,413.3 360.6,380.5 215.8,577.7 243.3,491.9 218.7,572 397.2,349.3 223.2,552 234,512.9 391.4,353.5 242.4,502.4 237,513.9 225.5,543.2 222.3,558.1 386,356.9 331.6,404.6 286.6,440.4 440.7,315.9 442.8,316.7 318.6,410.6 407,342.5 224.9,549 451.9,309.8 268.8,462 462.4,299.7 522.3,248.5 217.5,566 240.7,501.4 492.5,283.7 450,309.6 262.6,469.1 518.5,255.1 260.6,478 357.3,378.8 386.9,358.9 235.5,518.5 444.8,313.8 225.9,533.8 335.3,400.2 256.4,474.7 214.8,575.3 449.2,310.4 284.9,448.7 411.5,337.6 266.7,467.9 523.9,246.5 535.4,231 354.5,384.6 526.5,242.2 477.5,291.7 458.8,301.4 317.3,411.3 382.2,363 449.2,310.6 380.3,362.3 502.6,272.8 464.1,300.3 319.3,413.9 457.6,302.9 353.7,384.5 219.3,567.9" marker-start="url(#m26)" marker-mid="url(#m26)" marker-end="url(#m26)"/>
<polyline points="405.5,344.6 230.9,521.5 218.9,559.6 330.6,404.6 261.4,474.2 468.7,297.1 223.3,551.9 356.7,383.2 423.8,330.6 238.1,507.6 219.7,553.4 223.7,552.7 278.6,450.3 295.8,437.3 373.6,369.5 227.6,527.6 383.6,360.7 401.4,348.7 467.4,297.4 454.1,305.7 487.1,285.4 219.2,567.4 492.2,280.8 330,404.9 322.1,413.5 240.3,506 534,232.3 404.7,345.7 462.6,299.6 351,388.6 343.4,394 243.9,497.1 394.5,350 474.6,291.7 227.1,535.3 223.3,555.8 318.4,415.9 403.1,344.4 355.4,382.3 223.7,555.7 294.2,434.8 213.5,583.4 365.4,374.8 493.4,282.3 238.9,500.5 302.6,432.7 291.9,440.6 485.4,286.5 387.7,354.8 261.9,472.6 220.3,559.3 435.2,321.8 484.6,286 320.4,414.4 467.1,296.9 442.7,315.4 525.6,244.9 412,338.7 468.2,297.5 474.9,292 395.1,350.3 274.4,458.6 365.6,373.8 344.7,392.6 501.8,272.9 354.1,385.5 221.4,548 218.6,570.1 300.4,431.9 391.9,352.6 271.7,458.3 493.7,282 237,504.2 360.8,380.4 376.3,366.9 350.5,387.7 543.3,217 390.6,355.6 462.3,300.3 426.7,328.4 443.2,316.4 351.7,389.1 511.3,266.3 517.2,256.9 396,354 508.6,267.7 215.6,576.1 394.9,352 223.6,548.8 294.6,437.2 426.6,326.9 362.2,378.7 395.5,352.3 254.2,483.2 360.6,379.8 473.2,293.6 354.5,382.2 319.8,413.9 457.4,303.4 525.3,245.5 340.9,394.7 390.7,353.6 409.5,341.4 351.2,388.3 215.1,577.2 340,396.3 325.5,405.3 401.5,347.4 351,389.9 390,356.5 527.8,243 410,338.6 388.8,355.7 370.4,372.1 226.2,540.6 452.9,309.4 338.8,396.2 363.7,374.3 443,314.4 263.2,470.2 310.1,421.4 380.1,363.8 416.3,333.9 337.1,399.8 440.5,317.5 315.8,416 505.7,272.5 412.9,336.6 366.2,373.8 361.8,377.8 365.4,374.9 237.7,503.3 236.2,516.5 461.6,300 457.5,303.6 223.7,550 489.5,283.8 440.7,316 379.8,361.6 248.3,486.2 214.5,575.8 242.8,497.5 304,429.7 431.5,324.9 444.6,313.7 351.9,383.7 220.2,551.4 527.4,239.1 494.6,280.1 213.7,582.1 320,413.6 275.8,453.9 329,408.5 375.2,366.1 366,373.5 446,313.8 502.9,273.6 382.2,361.3 521.3,252.4 329.7,407.4 481.4,289" marker-start="url(#m27)" marker-mid="url(#m27)" marker-end="url(#m27)"/>
<polyline points="416.3,332.7 339.4,396 398.6,349.7 476.5,290.8 363.3,376.7 218.7,571.7 482.3,287.2 314.4,414.1 532.1,232 424.3,327.9 367,375.5 363.3,378 460.9,301.1 220.7,561.3 213.2,584 329.8,405.3 381.9,362 348.2,391.4 503.8,273.5 389.1,357.1 442.7,316.6 270.3,458.8 511.6,267 223.7,542 380.5,363.1 537.2,227.7 356.3,380.7 306.5,427 243.4,496.7 357.3,383.6 323.5,411.3 335,400.2 542.5,220.3 521.5,250.6 355.9,384.3 490.6,283 215.9,576.5 246.2,486.4 218.7,569.1 250.5,487.9 483,287.5 250.2,482.7 433.5,320.8 457.3,303.6 486.1,284.7 523.1,249.2 355.7,380.8 327.2,407.6 363.4,378.4 248.8,489.5 357.7,379.3 459.2,302.4 439.2,319.2 358.4,379.5 504.9,271.7 230.4,528.7 452.4,307.5 493.7,280 344.6,395.3 512.2,264.4 213.1,577.6 242.2,500.9 349.8,389.7 317.7,412.1 557.1,189.4 236.3,502.6 373.3,367.4 490.9,282 454.6,305 558.3,178.5 542.2,220.5 221.7,547.7 253.9,479.2 222.1,550.5 315.2,416.1 373.1,367.8 351.4,388.9 451.5,309.8 491,283.6 559.3,174.5 456.7,303.3 322.5,410.8 450.3,308.5 376.6,368.1 311.6,415.5 433.2,322.9 515.4,260.9 489.2,284.7 345.5,391.7 363.6,377 222.9,553.5 556.8,191.1 442.6,316.4 443.3,314.9 431.9,322.9 328.9,404.8 473.4,292.6 556.2,187.9 262.4,470.4 298.4,436.6 496.2,278.2 298.8,431.8 403.7,345.8 324.6,408.2 520,252 222.7,549.1 445.6,313.4 383.5,359.4 264.8,469.3 352.8,386.6 412.5,338.2 439.4,317 366.2,374.3 500.4,275.7 549.2,210.7 495.2,280.4 479.6,288.7 219.3,569 418.6,331.8 358.5,379.9 283.4,448.4 399.1,349 398.9,347.9 441.4,316.4 450.8,309.3 493.6,280.3 440.1,317.1 480.2,290.4 463.9,300.1 394.8,351.7 520.1,253 238.4,497.7 432.9,321.9 427.7,327.9 216.2,567.3 274.5,461 393.2,351.9 238.4,504.8 359,382.7 470.7,293.6 319.6,410.8 356.5,383.3 221.8,544.2 231.7,521.6 431.2,323.2 386.4,359.3 221.2,553.1 456.8,305.7 235,518.2 224.4,548 540.2,224.4 520.4,255.1 393.8,352.1 230.8,524.5 420.6,330.1 455.4,307.1 441.3,317.3 499.4,275.4 282.1,446.5 518.9,255.5 397.3,348.7 451.6,309 491.9,281.1 450.2,310.1 360.7,380.2 432.4,323.7 549.8,210.7 338.7,401 472.3,293.4 217.2,566.1 516.1,259.7 342.4,397.6 512.1,265.7 329.5,404.5 235.4,511.3 242.5,502.9 447.7,310.7 378.5,365.1 361.7,378.2 553.5,205.3 329.5,407.5 345.8,392.4 363,377.7 498.2,277.2 436.5,320.1 516.5,258.1 415.5,337.1 320.3,415.2 441.8,316.7 430.9,323.3" marker-start="url(#m28)" marker-mid="url(#m28)" marker-end="url(#m28)"/>
<polyline points="408.7,342.4 293.3,437.6 453.6,306.7 333.6,401.8 303.3,431.2 531.8,231.6 508.1,269.1 354,383.1 416.3,335 527.1,240.1 239.1,501.7 493,281.4 234.3,515.4 428.4,327.1 450.8,309.3 221.2,561.7 268,466.2 378.4,365.2 533.2,231.5 423.8,328.3 442.3,315.6 298.7,433.1 554.5,189.2 420.7,329.7 500.5,275.8 559.1,173.5 433.8,322.8 386,360.2 475.1,291.7 233.6,521.5 236,509.8 243.8,494 392.6,351.8 320.3,410.7 474,292.4 340.2,399.8 215.8,579 229.4,532.1 344.5,393 216.9,568.6 255.9,475.3 216.8,568 367.6,374.7 222.7,541 493.2,282.6 380.3,362 233.5,519.7 406.6,343.9 252.3,481.2 467.4,297.7 319.2,412.2 359.7,377.8 394.9,352.4 228.7,532.2 237.3,502.1 429.2,324.8 217.6,565.7 233,516.1 230.3,530.2 429.3,326.3 334.2,403.6 345.7,393.6 495.9,279.4 459.1,302.6 432.3,324.4 393.6,351.3 463.6,300.4 356.7,382.4 328.6,404.9 344.3,391.7 425.7,329.9 432.9,322.9 456.6,306 453.7,307.8 343.5,395 399.8,348.4 220,554.6 330.4,401.7 344.2,395.8 215.2,577.6 409,339.1 305.4,426.3 472.5,294.3 454.4,306.8 451.9,308.7 381.2,362.3 215.2,578.2 557.7,172 240.1,498.3 442.3,316.3 443.4,315.6 489.6,282.6 222.2,545.3 255,481.3 486.9,283.8 399.8,347.8 218.1,569.5 242.3,495.4 256.7,474.2 389.3,356 320.2,411.3 246.8,485.9 337.7,398.5 213.7,577.7 445.6,312.1 324.3,410.8 341.8,393.5 292,440.8 325.5,406.6 494.4,280.5 273.1,461.3 435.5,319.2 226,534 230.9,523.7 550.1,207 430.1,324.7 216.1,569.7 558.5,185.9 465.7,298.8 315,414.7 427.4,326.1 253.4,483.2 220.9,556.4 277.6,452.2 219.8,556.8 314.7,417.7 406.2,341.7 353.2,388.1 360.2,376.7 363.3,374.8 213.8,580.9 227.5,538.6 449.2,311.9 327.1,409.6 369.8,372.4 371.5,373 373,366.7 405.9,342 328.4,405 352.1,385.4 332.4,402.3 379.5,362.9 446.5,311.2 213.8,579.6 472.7,292.3 410.9,340.5 242.7,496.6 407,340.2 390.3,354.5 485.5,286.7 362.6,377 552.8,205.8 381.8,360.5 412.3,336.7 479.7,288.4 422.9,331.1 435.4,320.6 473.4,291.9 419.3,333.6 220.3,558.8 433.2,321.6 473.5,294.3 418.3,333.4 392.6,353 444.2,315.7 457,305.7 294.9,434.2 495.6,277.8 214.4,573" marker-start="url(#m29)" marker-mid="url(#m29)" marker-end="url(#m29)"/>
<polyline points="284.6,442.5 238.9,502.3 324.8,411.6 556.3,191.4 229.3,524 283.4,450.2 496.3,278.6 220,566.9 294.4,435 336.8,401.2 312.6,414.6 551.7,208 343.2,394 345.5,390.2 445.7,312.3 344.4,391.9 378.9,362.8 356.8,381.8 236.4,510.5 444.4,314.2 553.5,200.2 251.5,485.3 450.7,309.6 490.1,283.9 382.1,362.6 327.3,408 423.5,329.3 378,365.8 238.9,505.6 383.2,359.8 411.8,337.9 337.8,399.9 318.3,414.8 477.9,289.1 216.6,578.5 227,538.5 477.3,290.3 436,319.5 236.9,505.7 421.8,330.1 490,283.2 494.3,279.4 338.3,400.1 281.4,449 488.5,283.7 553.8,159.9 359.4,378.8 377.6,365.5 396.4,352.9 223.1,555.6 355.9,383.1 320.7,411.3 367.1,372.8 359.2,379.7 233,523 556,167.5 424.2,328 486.6,284.4 403.3,345.6 321,409.9 324.3,411.2 475.9,292.5 324.2,412.4 398.3,346.9 556.9,198.3 444.7,314.7 365.2,375.5 383.7,357.4 477.4,290.2 469.4,296 214.4,581.8 407.3,342.2 218.9,562.9 316.5,412 506.4,141.1 224.8,533.5 381.4,359.2 219.2,572 557.8,181.8 397.2,350 223.6,553.8 216,574.1 442.5,315.8 333.9,402.5 488.1,283.4 357.9,384.1 455.1,306.3 396.1,351.4 364.2,377.7 214.9,577.8 446.6,311.4 460.3,301 371.4,370.8 350.5,388.5 230.5,530.7 432.6,323.8 494.4,281 215.4,578.3 492.2,281.6 490.1,283.1 397,349.5 450.2,311.4 439.2,317.4 447.5,311.3 337.3,399.7 316.1,414.7 408.8,339.9 338.7,395.7 362.4,377.4 229,524.7 421.1,333.2 461.3,300.9 477,289.9 356.5,382 470.3,293.3 386.7,355.3 549.5,206 223.7,548.3 406.3,341.3 451,310.2 229.7,527.4 411.9,338.8 470,296.1 457.9,304.9 222.2,560.9 486.4,285.8 239,506.9 546.7,213.9 371.4,369.1 346.6,390.1 398.1,350.7 394,354.1 461.3,303 314.2,415.6 232.7,521.1 473.8,292.6 497.4,279.5 222.3,560.3 230.7,527.9 492.9,129.8 392,354.5 220.1,553.5 557.4,183.1 368.9,371.3 214.1,581.5 217.4,575.2 435.1,322 504.1,139.6 419.2,333.7 479.3,288.4 492.6,283.2 358.7,381.5 501.9,138.1 421.1,332.6 473.4,292.3 339,395.8 329.5,403.3 468.4,296 319.5,413.4 454.3,306.5 362.6,376.6 426.3,326.7" marker-start="url(#m30)" marker-mid="url(#m30)" marker-end="url(#m30)"/>
<polyline points="443.8,313.9 218.3,560.9 241.2,502.4 325.6,410 222.4,560.5 351.5,387.6 313,417.4 375.4,365.4 491.8,282.8 427.7,326 386.7,358.6 439.5,318.4 320.8,412.4 487.5,285.2 464.2,299.6 333.1,402.9 471.3,293.3 408.5,341.8 551.7,204.4 315.4,417.5 410.8,340.4 559.2,174.4 341.1,395.7 554.5,190.9 392.3,355.7 243.4,500.4 227.5,534.3 221.7,543.8 224.2,548.2 221.4,558.1 517.7,255.2 221.5,551.8 511.4,264.9 510.9,140.4 231,528.2 509.4,267.9 222.9,553.8 515.8,258.9 222.9,540.7 236.7,512.9 217.7,576.1 500,275.3 518.9,254.7 499.4,276.3 557,181.3 222.1,556 219,567.7 218.9,572.2 232.3,523.8 229.3,530 223.2,545.6 557.4,166 555.8,194.5 225.4,537 236.8,507.6 558,196.7 226,533.7 234.1,522.3 237.2,511 216.6,571.5 547.5,212.2 222,554.4 555.5,191.8 223.9,552.6 224.9,539.4 214.1,579.1 504.1,272.9 230.8,521.5 556.5,180.4 229.4,533.2 220.8,555.7 215.5,580" marker-start="url(#m31)" marker-mid="url(#m31)" marker-end="url(#m31)"/>
<polyline points="556.8,190.4 226,539.6 219.5,566 227.2,537.1 512.9,141.4 559,182.8 223.7,543.6 558.1,174.7 215.5,572.4 216.9,575.8 237.1,506.4 233.3,514.2 221.1,559.8 214.3,576.4 220.5,561.9 503.6,272.4 223.5,540 508.6,140.8 220.6,564.8 234.8,512 223.2,553.5 549.2,209.4 558.3,183.2 225.2,542.4 234.7,518.6 514.7,142.6 558,176.4 558.5,184.1 230.2,524.6 228.4,527.1 495.1,132.9 230.3,526.5 498.3,277.1 493.9,131.5 496.6,134.5 221.5,561.1 215.5,573.9 498.1,135.9 221.2,554.6 220,553.1 213.4,579.9 556.7,176.2 224.2,550.3 216.2,573.4 219.8,570.2 222.2,553.7 218.4,574.8 225.9,536.8 559,169.7 225.1,543.8" marker-start="url(#m32)" marker-mid="url(#m32)" marker-end="url(#m32)"/>
<polyline points="504.3,272.6 499.9,137.1 233.7,514 220,566.6 506.5,270 224.9,538.8 242.7,501 550.2,207.5 218.6,558 556.9,197.1 550.5,206 527.4,150.2 482,121.1 481.1,120 481.6,119.8 481.4,120.7 556.1,181.7 219.7,565.1 223.7,547.2 235.2,512.8 229.9,525.1 550.6,206.5 558.2,186.1 233.5,515 231.2,524.1 227.2,533.1 277.5,443.5 224.5,550.9 258.2,468.1 241.4,506.3 238.3,506.2 255.8,467 218.1,574.2 291.7,431.4 555.7,188.1 212.1,583.6 287.4,437.6 499.5,276.3 558.9,181.4 516.8,257.4 225.1,539.4 217.2,572.4 551.3,206 242.4,502.6 217.9,575.9 236.1,507.9 512.5,264.6 221.4,559.1 228.4,531.7 232,524.1 558,180 259.4,464.3 216.9,571.9 558.3,165.5 515.7,260.2 556.6,191.3 283.5,443.1" marker-start="url(#m33)" marker-mid="url(#m33)" marker-end="url(#m33)"/>
<polyline points="502.9,272.4 217,565.2 216.7,571.9 254.8,468.1 220.6,551.3 556.9,169.7 267,458.8 520.5,145.1 524.4,145.7 275.8,449.4 513.1,261.9 512.3,265 294,431.5 503.7,272.9 523.2,147.7 273.7,450.7 524.3,147.9 521.3,143.7 519.5,143.6 498.6,276.8 254.8,468.4 240.7,488.3 505.7,270.7 524.5,148.9 294,429.8 522.6,145.9 519.4,145.8 252.3,469.7" marker-start="url(#m34)" marker-mid="url(#m34)" marker-end="url(#m34)"/>
<polyline points="520.6,147.9 306.6,421.4 519,144.5 309.7,418.8 430.5,323.9 519.4,145 523.2,144.5 521.9,149.3 523.3,145.1 516.1,258.4 444.3,314.4 434.3,320.4 410.7,338 504.9,271.6 355.1,381 245.5,478.4 319,409.1 398.8,347.8 301.3,423 521,144.4 522.8,145.7 258.1,466.9 516.8,145.8 414,334.2 391.9,352.3 514.3,261.3 304,422.5 253.3,470.4 505.8,271.4 515.8,258 522.8,148.4 307,418.2 493.2,280.1 521.8,146.6 518.1,255.4 523.4,145.9 342.8,393.9 521.7,147.6 482.3,286.4 439.8,316.5 375,366.8 463.9,298 525.1,149 507.6,268.8 376.1,365.5 417.2,333.4 299.9,423.5 443.2,313.7 464.8,298.6 459.8,300.6 277.9,445.8 434.5,320.8" marker-start="url(#m35)" marker-mid="url(#m35)" marker-end="url(#m35)"/>
<polyline points="277.6,447 519.9,144.3 439.8,316.7 519.7,145.6 282.9,439.9 502.9,272.7 522.6,146 215.8,563.7 519.4,146.6 526.2,243.3 286,439.2 525.1,147.7 523.8,150.6 214.1,568.8 210.1,584.3 211.1,577.3 528.1,241.4 519.4,253.7 542.9,220.7 213.7,564.6 300.3,426 435.7,319.4 274.8,451.4 248.2,481.2 207.7,583.4 525.8,242.9 521.2,143.1 213.7,562.5 540.3,220.7 516.6,144.2 206.5,589.5 221.3,515.5 544.6,216.2 393.9,350.8 220.4,530.6 521.2,145 220.2,536.5 304.4,422.2 355.3,380.9 520.3,143.1 350.7,387.4 239,488.2 310.4,416.4 523.6,147.7 522.9,147.1 291.8,435.1 305.1,420.7 207.7,583.4 520.7,148.2 534.6,229.3 516.7,258 221.7,520.4 536.5,228.9 219.9,546.1 523.6,149.1 215.5,562.3 395.7,348.8 350.2,387.9 228.1,501.7 525.1,149.7 216.4,552.4 325.3,406.6 529.7,236.5 348.9,388.3 295,430.7 517.3,144.8 373,367.8 272.2,451 532,232.7 519.4,146.3 346.6,390.8 273.6,452.5 216.4,547.3 372.3,367.5 518.4,256.7 486.1,285.7 521.1,145.7 530.7,233.7 213,573.7 519,141.6 242.3,485.2 540.5,223.8 445.4,312.6 223,515.2 231.6,494.1 222.6,517.6 246.4,478.6 214.5,556.6 387.7,354 222.9,534.5" marker-start="url(#m36)" marker-mid="url(#m36)" marker-end="url(#m36)"/>
<polyline points="227.4,507.2 405.2,341.5 520.1,144.2 218.9,549.1 539,223.8 213.1,574.9 520.6,145.6 261.7,465.3 270.9,455.3 519.6,145 257.4,467.4 421.5,330.8 220.5,530.1 217.2,541 490.1,283.5 209.5,578.7 217.1,550.5 294.9,430.9 222.5,536.3 299.5,423.1 517,257.2 520.7,252.2 399.9,346.1 519,254.9 423.3,327.9 526.4,241 287.4,433.7 445.1,313 540.4,221.6 386.7,355.1 207.6,592.6 206.2,592.8 519.5,252.1 492.8,281 530.8,235 308.6,418 206.2,591.1 222.7,529.1 306.2,422.6 493.2,280.4 321.4,409.4 376.3,364.7 213,574.9 444.7,313 544.9,216.2 208.7,588.6 332.9,400.4 541.4,221.8 544.6,214.3 530.8,232.8 528.6,240.1 532.5,231 244.8,477.8 544.4,218.1 219.5,536.3 214,559 538.2,224.1 491.5,281 525.2,242.6 426.3,326.5 521,250.4 304.4,422.1 221.2,539.5 223.5,530.3 210.5,583.1 214.5,551.4 226.9,507.7 311.3,416.4 528.2,239.2 459.5,300.9 226.9,501.5 382,358.1 286.1,437.5 242.6,486.2 212.2,568.8 287.8,434.1 223,521.6 210.2,590.2 244.5,482.2" marker-start="url(#m37)" marker-mid="url(#m37)" marker-end="url(#m37)"/>
<polyline points="213.3,575.2 537.5,226.2 215.7,554.2 377.5,363.5 211.9,574.5 209,591.4 400.3,345.8 210.9,580.2 529.3,236.1 536.5,150.9 539,223.9 224.8,505.6 519.9,253.2 215.1,573.2 535.5,228.4 521.3,250.5 537.7,228.3 530.9,235.8 227.2,499.1 520.7,251.7 533,231.9 459.9,300.5 492,281.3 272.5,450.5 517.9,256.3 220.3,544.7 219.1,547.2 205.2,594.4 215.7,569.4 283.7,442.2 242.6,479.8 274.8,446.8 442.1,313.8 228.5,499.2 209.3,586.1 538.2,224.8 526.7,242.4 219.4,551.1 313.4,415.3 338.1,396.8 288.9,434.8 533.4,231.3 374.9,365.3 271.3,452 530.6,234.2 216.7,554 430.3,324.1 351.2,385 325.9,404.7 216,553.2 413.7,336.1 259.9,468.5 208.4,592 206.3,593.5 289.2,435.6 208.4,582.3 421.8,330.2 206.9,590 532.9,232.4 544.2,217.8 239.9,489 440.1,316.7 369.4,369.9 221.8,524.1 535.8,228.9 383.6,357.3 445.2,313.4 222.4,526.2 225,507.3 479.2,289.5 360.7,376.6 443.6,312.5 216.6,561.7 222,519 537,225.5 362,376.5 435.9,320.4 480,288.5 531.1,234.2 544.4,217.4 539.2,224.4 213.1,569.5 524.8,245 309.6,417.1 522.2,250.2 223.3,522.4" marker-start="url(#m38)" marker-mid="url(#m38)" marker-end="url(#m38)"/>
<polyline points="410.7,338.3 220,533.6 214.9,557 222.6,536.4 275.7,448 222.9,535.7 542.5,220.8 211,570.4 530,234.3 230.1,499.5 213.8,577.7 211.7,573.1 217.3,541.7 519.2,252.6 439.4,316.6 253.1,473.7 213,564.8 353.4,385 314.8,412.9 531.3,234.3 232.8,500.1 223.4,529.6 216.1,569.3 229.3,502.4 454.8,305 520.7,251.9 409.8,339.5 264.6,459.2 221.1,520 222.6,517.7 537.2,226.4 220,546.7 228.8,501.9 247.3,481.9 221.6,511.9 210.1,574.6 545.9,215.2 260.1,467.6 516.1,258.1 409.1,339.8 544.7,216.3 324.5,405.7 272.4,449.2 208.6,585.8 524.5,243.6 223.8,518.9 223.9,526.6 223.4,535.1 214.9,562.6 420.6,330 214.4,568.8 417.4,333.4 543.9,217.6 308.5,418.4 313.1,413.9 517.7,256.1 215.1,569.5 342.2,392.3 543.4,216.6 517.6,257 541.8,220.9 337.8,398.4 384.4,357.1 255.9,468.9 214.2,579.1 218.2,564.3 424.8,326.7 228.7,504.6 262.6,461.7 224.1,518.4 213.2,569.3 375.6,365.6 214.6,551.8 285.1,437.8 346.1,390.7 274.7,449.3 521.9,248.5 517.1,257.8 220.7,530 224.5,528.3 535,229.9 400.2,347.6 232.1,500.4 223.1,528.7 216.5,555.6 524.8,245 518.6,254.6 522.5,247.7 395.4,349.6 298.1,428.6" marker-start="url(#m39)" marker-mid="url(#m39)" marker-end="url(#m39)"/>
<polyline points="239.5,492.1 394.8,349.6 210,584.7 368.8,371.6 529.7,235.9 233.4,493.3 223.1,532.7 213.5,561.5 219.1,549.1 493.6,111.8 491.4,113.3 498.4,114.4 535,148.6 539.5,152.4 549.2,164.4 468.6,295.4 532,232.6 525.9,243.6 518.8,254.8 211.2,585.2 535.5,228.2 209,586 205.8,594.9 212.5,576.2 365,373.4 516.2,257.6 215,560.6 213.2,562.8 522.3,248.9 214.1,559.7 556.4,173.2 217.6,542.4 518.1,256.1 462.7,299.1 522.2,248.8 211.8,575.6 221.3,533.1 209,588.8 362.5,375.9 526.5,241.8 224.3,524.9 402.3,344.6 219.3,549.4 223.3,513.5 222.5,538.2 206.5,594 531.8,233.3 216.3,566.4 388,354.6 547,214.5 532.6,232.8 212.5,567.7 424,329.1 213.1,569.2 520.6,251.7 520.6,251.6 213,572.2 211.6,572.1 518.6,256.3 211.5,573.2 221.3,538.8 443.6,315.1 223.6,522.2" marker-start="url(#m40)" marker-mid="url(#m40)" marker-end="url(#m40)"/>
<polyline points="545.5,214.9 215.1,548.1 208.4,586.3 311.7,415.7 380.8,360.1 480.6,288.2 205.2,594.8 213,574.5 222.1,526.3 224.4,521.2 313,416.1 349.3,388.1 214.6,558.9 550.2,207.3 210.4,585 487.9,284 225.3,508.6 556.2,165.4 546.1,214.7 205.3,592.9 224.2,525.8 206.9,593.6 214.7,570.8 337,396.2 482.4,286 362.4,375.1 469.3,294.9 217.1,565.9 210.4,574.2 206.7,588.4 343.7,393.7 227.4,507.9 211.3,568.2 217.3,551.1 214.1,554.6 225.2,512.2 213.1,565.8 213.9,579.3 210.6,583 208,590.2 210.8,575.4 211.9,578 222.5,521.8 213.9,576.4 212.2,573.6 411.2,336.7 423.5,328.3 212.4,566.7 323.9,408.4 441.9,315.1 214.3,557.3 554,201.6 215.1,555.2 213.2,582.2" marker-start="url(#m41)" marker-mid="url(#m41)" marker-end="url(#m41)"/>
<polyline points="220,539 550.1,180.9 219.1,550 221.1,524.7 557.2,192.6 214.7,573.6 207.9,584.2 215.7,555.4 219.8,532.2 555.8,182.8 214.8,562.3 224.6,507.2 219.1,561.5 220.5,532.9 216,573.8 219.1,550.5 556.1,172.8 210.1,583.3 211,577.8 217,566.5 221.7,527.3 217.3,542.1 209.9,583.4 222.6,515.5 213.9,578.4 213.8,578.1 211.9,574.4 217.8,543.3 217.7,562.9 222.6,538.5 554.1,204.3 205.5,593.7 215.9,553.5 227.1,505.4 221.3,541 210.4,581.2" marker-start="url(#m42)" marker-mid="url(#m42)" marker-end="url(#m42)"/>
<polyline points="216.8,547.5 216.1,549.8 206.1,593.3 210,589.4 213.2,566.6 214.5,568.5 221.2,540.1 224.1,518.8 216.3,570.5 222.3,516.4 557,169.6 217.2,563 214,564.1 219.1,548 209,587.1 207.3,586.4 551,207.6 556.7,190.8 217.7,545.6 212.7,582.3 204.5,595.7 209.5,587.6 222,517.4 208,592.2 217.5,551.9 214.7,577.3 227.9,508.4 218.1,560.7 213.1,575.9 205.6,594.7 222.8,513.4 214.4,563.9 205.8,594.1" marker-start="url(#m43)" marker-mid="url(#m43)" marker-end="url(#m43)"/>
<polyline points="214.9,561.9 222.4,510.9 558.3,182.5 225.9,505.2 212.4,570.6 214.7,556.6 207.4,584.7 225.8,508.1 217.3,555.5 221.3,529.6 228.5,505.4 211.5,584.7 221.4,521.6 219,548.6 215.9,553.1 215.7,558.8 219.2,536.6 224.1,507.5 207.7,591 210,587.5 214.1,563.4 224,514.8 217.7,547.7 215.3,569.7 206.3,591.6 214.4,568.6 205,595.8 216.5,570.6 209.8,582.5 559.3,178.2 216.2,565.1 558.8,173.8 213.5,571.5 208.5,582.4 211.2,572.1 222.2,528.2 218.1,547.5 219.2,542.6 207.4,588.7" marker-start="url(#m44)" marker-mid="url(#m44)" marker-end="url(#m44)"/>
<polyline points="208,585.4 550.5,180.5 533.9,222.6 492.1,106.5 494.4,108 498.1,105.8 495.1,105 492.9,108.8 552.3,130.6 532.7,134.8 534.5,138.6 557.8,145 538.7,154.7 559.8,156.9 213,567.4 217.5,542.1 217.8,549.7 217.2,568.3 211.7,578.6 214.5,564.3 214.8,557.7 208.4,584 219.9,544.8 220.8,542.8 212.3,566.8 220.4,543.9 220.4,541.4 217.7,559 220.8,540.9 211.8,575.4 215.3,553.5 214,562.4 214.8,562.1 217.8,559.6 208.1,585.8 211.5,572.6 217,553.9 227.9,503.7 211.4,585.5 208.7,581.7 217.3,559.7 209.4,588" marker-start="url(#m45)" marker-mid="url(#m45)" marker-end="url(#m45)"/>
<polyline points="213.8,577.6 213.8,577.6" marker-start="url(#m46)" marker-mid="url(#m46)" marker-end="url(#m46)"/>
<polyline points="504.6,261.7 526.7,119.3 531.2,122.3 214,545.8 210.6,579.1 213.9,579.5 217.5,575 215.5,565.1 214.6,547.7 209.2,569.6 214.8,569.2 213.6,547.5 207.1,594.8 213,552.9 216.7,570.9 216.6,563.1 208.2,575.3 209.3,586.6 213.3,561.9 209.6,551.1 212,568.1 206.1,593.3 212.2,578 205.1,596.2 210.8,556.7 209.9,582.5 205.3,594.5 215,550.6 210.9,572 210.6,551.1 208.5,587.2 214.3,566.1 210.9,549.4 209.9,548.1 208.6,569.8 209.9,585.7 211.4,561.8 210.8,582.8 215.4,553.8 206.2,593.9 205.4,594.2 213.2,572.7 210.5,549.4 211.5,557.6 212.5,572.3 205.9,595 211.7,587 210.2,576.1 209.7,591.4 211.2,545.4 213.2,578.8 209.7,562.7 212,545 216.1,555.3 214.9,571.4 205.4,592.2 209.8,588 208.5,583.3 212.1,547.3 215.1,563.6 212.3,556.1 211.2,556.2" marker-start="url(#m47)" marker-mid="url(#m47)" marker-end="url(#m47)"/>
<polyline points="205.4,592.5 209.5,590.9 207.9,591.7 214,583.5 213.4,575.7 496.5,258.8 496.1,262.9 498.8,261.1 496.5,267.1 543.7,209.8 544.4,202.3 549.7,206.8 506.8,250.5 506.1,252.7 496.6,109.5 521.9,112.9 493.3,125.8 535.7,160.7 544.7,203.3 543.7,209.7 207.7,591.1 209.2,577.6 325.5,406.7 216.6,559.2 211.4,561.1 211.9,563.1 205.7,596.2 373.2,366.7 382.8,357.8 215.7,553.7 210.6,587.8 208.7,573.7 211,582.2 208.9,578.4 209.5,563.1 350.8,384.9 216.1,560.3 347.4,388.6 210.5,555.8 210,588.2 206.4,594.3 210,574.1 213.9,546.1 207.5,575.2 210.9,585.3 209.7,557.6 209.7,581.1 205.6,594 207,590.7 321.3,408.5 210.3,591 214,575.9 391.7,352.1 356.7,381.1 215.4,551.9 212.6,578.1 215.1,550.8 208.6,559.8 207.9,590.7 211.1,556.9 208,575.5 205,595.9 208,592.5 209.9,567.1 209.4,584.6 211.8,574.1 209.3,552.5 333.3,401.3 209.4,569.3 216.4,568.5 350.9,385.5 208.6,568.4 323,408 214.3,579.1 347.6,389.7 211.2,576.9 393.1,351" marker-start="url(#m48)" marker-mid="url(#m48)" marker-end="url(#m48)"/>
<polyline points="211.8,580 208,573.5 209.4,561.4 210.9,589.9 215.6,545.3 210.2,586.2 214.7,561.5 215.8,561.5 211.9,564.2 375.2,366.2 210.6,558.3 211.4,584.4 321.7,408.6 212.9,573.7 208.8,557.5 208.6,593.2 213.8,568.3 209,583 211.8,582 210.9,563.5 215.1,560.3 317.5,410.7 208.7,564.8 211.2,570.7 212.5,575.8 334.3,400.4 213.5,545.9 378.4,360.9 207.8,575 212.5,564.7 211.8,561.5 210,557.6 217.4,572.9 209.2,571.6 213.9,550.8 214.5,558.1 211.3,585.3 356.3,381.3 214.4,565.4 210.3,558.3 210.3,547.8 210.8,547.2 208.9,588.9 206.1,593.1 214.4,551.7 353.4,381.5 213.4,546.8 205.6,593.8 209.8,589.5 212.1,571 211.5,555.3 211.8,585.6 208.8,566.2 207.6,586.1 213.8,546.9 208.6,582.9 211.4,550.5 212.6,581.6 215,553.1" marker-start="url(#m49)" marker-mid="url(#m49)" marker-end="url(#m49)"/>
<polyline points="216,571.2 340.7,389.4 375.3,364.6 425.1,330.2 412.8,332 404.1,339.2 474.7,282.1 481.5,278.3 487.2,270.8 491,264.1 493.5,255 466.5,288.9 460.5,292.2 461.2,294.9 512.1,181.3 531.4,183.5 538.7,179.8 518.1,197.8 532.4,194.1 516.6,228.6 525.6,229.4 517.4,237.7 505.6,243.7 511.4,243.2 468.5,107.7 500.4,108.8 502.6,109.5 504.4,110.8 489.8,116.3 532,124.6 529.7,126.8 508.6,154.7 525.6,161.4 400.7,347 284.5,434.6 276.6,439.4 519.6,213.7 512.1,181.4 531.2,183.4 538.4,179.9 518,198.3 532.2,194.3 516.6,228.6 517.3,237.5 292.5,434.3 361,378.3 215.2,578.9 205.8,594.9 214.6,577.5 212.8,548.9 294.1,434.7 210.6,573.8 216.4,578.1 215.8,546 209.3,574.6 209.6,566.9 208.2,576.1 212.8,582.8 207.5,592.6 354.1,382.7 212,566.6 245.4,485.1 215.5,560.6 205.5,595.6 381.4,358.6 209.8,588.1 372.6,367.1 232.9,503.3 243.1,488 209.7,573.5 236.3,500.9 211.6,568.4 216.7,570.6 209,589.4 364,373.9 270.2,459.6 324.8,407 212.9,565.6 208.6,553.5 213,577.9 211.1,585.6 324.3,407.5 211.9,585.2 210.6,582.9 212.4,549.3 209.7,557.6 383.7,358.5 213.2,576.7 212.3,558.4 274.9,456.6 216.4,568.9 204.2,596.4 206.5,588.9 207.9,587.4 210.2,579.6 211.7,558.6 362.3,375.8 211.8,548.5 248.4,484.1 211.7,549.7 207.2,594.3 208.6,587.1 209.6,577.6 211.5,578 214.3,583.1 391,354.4 215.1,545 215,550.6 213.2,545.5 216.6,557.4 215.2,574.8 216,545.2 210.7,545.2 266.6,464.2 212.2,587.2 211.9,569.6 208.7,584.2 214.8,570.9 214.6,574.7 207.9,588.2 210.8,585.9 213.9,566.8 211.9,573.3" marker-start="url(#m50)" marker-mid="url(#m50)" marker-end="url(#m50)"/>
<polyline points="205.4,594.1 217.6,571.8 292.6,433 312.1,415.4 209.6,582.9 213.2,566.9 210.2,557.5 204.8,595.8 209.5,551.4 212.8,545.3 377.2,363.3 211.5,567.5 214.2,577.7 209.7,586.5 216,575.2 212.2,564.2 211.8,588.1 215.2,564 277.3,449.2 210.4,552.6 212.1,564.8 210.7,556.4 338.1,397.7 217.3,577.1 214.1,548.9 209.1,587.8 210,563.5 208,587 306.2,422.5 330.9,403.4 380.5,361.2 340.2,395 209.1,570.4 212.4,561.2 209.8,582.7 248.9,481.1 216.2,569.5 311.4,417.6 214.5,551.5 210.8,573.8 208.3,559.8 215.3,569.6 213.5,561.4 211.4,580 214.5,580.7 215.8,557.6 214.1,561.2 377.3,364 212.8,573 245.7,484.6 358.7,379.8 209.9,551.5 216.6,561.6 362.7,374.9 215.5,579.1 216.1,571.6 205.7,595.4 215.1,556.5 209.8,556.8 213.8,550.9 210.5,545.9 337.8,397.2 210.5,549.9 215,554.1 216.1,545.6 216.7,567.7 213.4,579.4 351.2,381.1 424.4,322.7 471,278.6 478.3,185.8 476.8,198.9 473,210.9 470,224.1 470,231.7 490.3,134.4 492.1,138.9 492.9,145.2 498.6,158 281.9,435.5 209.1,592.5 216.9,572" marker-start="url(#m51)" marker-mid="url(#m51)" marker-end="url(#m51)"/>
<polyline points="208.5,563.3 210,553.8 210.6,590.6 211.7,548.7 214.1,555.9 210.4,579.1 207.9,583.7 210.8,552.8 285.4,443.6 214.9,559.8 250.7,481.2 214.9,565.3 205.7,592.2 209.5,587.3 209,565.5 207.5,594 209.9,553.6 210.5,574.8 213.5,562.2 209.8,580 208,586.3 212.7,545.8 209.5,576.5 210.2,579.9 215.7,569.9 299.6,428 209.9,587.1 214.4,581.5 213.5,580 210.5,551 213.4,547.4 209,553.4 211,552.2 210.4,569.5 215,581.9 206.4,591.9 210.5,546.5 211,557.1 212.4,567.9 213,555.1 244.8,485.8 206,596 214.1,557.1 211.1,580 209.2,572.7 213.1,566.7 265.1,462.7 213.4,546.9 212.5,581.9 211.6,563.6 211.7,580.9 205.2,594.1 213,578.8 207.6,593.8 212,552.7 311.4,416.8 211.2,586.4 208.6,583.1 281,444.8 208.9,556.4 211.9,561.9 213.9,557.7 211.8,576.8 252.1,474.7 208.5,584.2 445.7,305 435.6,312.9 473.6,126.5 263.4,467.2" marker-start="url(#m52)" marker-mid="url(#m52)" marker-end="url(#m52)"/>
<polyline points="231.8,500.9 234.7,497.4 230.1,503.8 243.1,484.5 306.8,420.9 310.5,420.4 268.7,457.9 297,433 301.1,428.1 304.2,423.5 215.3,531.3 207.7,577.2 208.6,549.3" marker-start="url(#m53)" marker-mid="url(#m53)" marker-end="url(#m53)"/>
<polyline points="206.3,559.6 205.6,546.4 205,577.3 204.3,548.3 203.5,549.4 204.3,587.7 206.1,593 204.8,595.4 207.7,566.3 205.4,586.9 205.3,595.6 206.4,546.4 203,555.2 303.4,427.4 204.6,582.2 206.8,554.4 216.3,530.2 207.8,572.9 206.2,573.2 206.6,588 207.6,548.6 204.9,589.9 208.4,564.6 205.4,586.8 205.4,593.1 204.5,592.6 230.4,506.3 206.8,556.7 205.9,563.9 218.7,525.2 205.9,579 207.3,547.5 206.6,589.7 296.4,429 207.9,583.9 212.2,537.5 207.3,570.9 207.5,552.5 208.7,573.4 291.9,435.2 207.5,551.7 206.1,565.3 205.1,596.1 204.2,550.5 203.2,556.9 206.5,576.1 208.5,574.1 204.2,587.6 278.3,450.5 204.7,592.2 204.3,589 301.7,425.6 208,586.9 205.9,551.6 315.9,409.7 456,193 456.8,195.3 463,123 463,122.4 463.6,122.9 462.9,122.4 210.3,541.3 229.9,508.3 208.7,579.3 205.3,562.4 204,564.1 227.3,511.3" marker-start="url(#m54)" marker-mid="url(#m54)" marker-end="url(#m54)"/>
<polyline points="205.3,553.6 206.6,559 216.6,525.8 207.5,567 203.8,588.5 206.4,583.2 206.7,566 206.8,557.6 208.7,542.7 207.9,549.6 205.1,581.7 207.6,587.3 208.3,552.6 202.6,552.1 209.4,542.3 205,560.5 206.9,556.6 207.4,546.4 205.1,566.4 206.2,557.2 208.4,578.6 206.9,571.9 205.4,574.3 212.7,533.2 208.1,552.9 205,587.7 202.3,553.8 205.7,591.8 207.7,574.4 205.9,556.2 204.8,564.5 206.6,593.3 203.2,561 207.1,564.4 205.3,560.3 206.5,547.5 205.7,587.4 208.2,571.7 228.3,509.1 205.4,560.8 208.9,577.7 205.5,581.3 206.6,562.7 209.1,575.2 204.3,556 204.6,592.8 300.1,420.2 204.9,580.3 206.7,579.3 204.8,555.6 205.4,572.8 207.7,582.2 204.5,595.6 207.3,589.2" marker-start="url(#m55)" marker-mid="url(#m55)" marker-end="url(#m55)"/>
<polyline points="204.5,547 208.9,575.1 207.5,588 204.9,550.5 205.1,550.4 204.4,585.4 205.6,589.6 215.1,528.2 205.9,582.8 204.7,596.1 206.5,584.3 204.6,572.6 207,576 203.5,555.6 206.4,587.1 206.6,591.6 205.8,575.1 205.5,590.2 220.2,519.5 205.2,581.4 206.1,580.9 207.1,591 206.9,591 206.8,558.2 203.1,567.1 205.6,547.5 208,571.4 205.9,592.3 204.8,589.2 210.7,539.8 205.6,587.3 209.1,584.2 207,578.2 204.9,592.5 207.1,577.4 229.7,509.1 230,507.6 318.9,401.9 394.7,331 440.8,287.2 457.1,268.9 462.4,246 466,244.1 465.4,252.8 459.7,255.8 462.4,257.3 458.3,203.4 457.5,214.4 284.1,404.9" marker-start="url(#m56)" marker-mid="url(#m56)" marker-end="url(#m56)"/>
<polyline points="204.7,595 204.4,557.3 206,565.3 204.9,582.9 206.2,551.3 208.9,562.8 205.6,594.7 205,574.4 207.4,587.4 205.3,594.6 207,565 207.5,550.7 207.6,589.5 207.8,547.4 204.3,555.5 206.2,570 207.5,570.5 205.9,550 204.3,560.5 204,561.4 214.3,531.4 226.7,513 209.1,547.3 205.4,582.6 204.7,595.5 204,551.4 205.1,591.7 207.2,574.3 205,593 208,560 227.5,510.8 204.4,595.7 206.2,546.7 208.7,548.7 209.1,549.1 206.3,548.3 207.3,559.9 208.4,541.1 206.2,571.9 206.4,581 208.2,547.4 205.7,547.2 209,577 204.2,566.2 206.6,581.7 355,369.8 332.4,386.4 421.8,302.1 440.5,268 430.9,236.9 271.8,404.4 293.2,393.5 292.4,395.2 262.6,425 263.9,427.2 205.8,592.3 207.6,558.5" marker-start="url(#m57)" marker-mid="url(#m57)" marker-end="url(#m57)"/>
<polyline points="206.2,584 205.2,569.5 205.7,550 206.2,557.5 207.1,585.2 204.8,590 206.6,546.7 205.8,594.5 202.7,553.5 204.3,548.4 205.8,591.7 260.7,440.1 206,583.2 205.3,581 205.3,596.2 204.2,554.3 207.3,580.4 206.6,576.4 207.5,563.3 205.4,553.7 208.2,553 208.2,566.4 207.8,557.6 205,576 206.7,548.5 205.2,588.9 206.5,558.8 209.1,570.7 205.2,557.9 205.5,550.2 207.5,554.5 205.3,585.1 208.9,571.2 204.7,595.9 207.5,561.8" marker-start="url(#m58)" marker-mid="url(#m58)" marker-end="url(#m58)"/>
<polyline points="204.8,596.2 205,574.5 207.4,580.2 206.5,587.5 204.4,554.9 204.1,554.8 207.6,565.5 207.9,589.1 206.1,587.5 205.4,573.4 203.3,553.7 208.2,587.2 204.5,595.5 258.4,443.7 203.8,569.5 208.3,580.1 205.5,571.7 206.5,558.4 208.1,581.2 205.6,580.4 205.2,557.4 204.4,561.9 205.1,566.7 207.7,587.1 207.1,588.4 203.1,562.1 202.7,550.9 205.2,578.8 205,594.9 206.1,562.6 205.2,594.2 209.7,568.4 208,568.5 203.9,556.6 207,550.1 208.2,570.7 203.7,590.9 205.8,593.8 205.1,551.1 205.8,563.1 204.6,568.5 205.4,562.6 205.4,565.3 204.6,589.2 205.6,578.9 205.2,580.2 204.5,592 208.4,552.7 203.5,564.6 207.3,563.7 206.2,558.8 206.8,558.9 204.6,563.9 204.9,595.6 370.8,335.3 376,352.3 403.3,260.8 391,301.4 398,311.9 370.6,311.7" marker-start="url(#m59)" marker-mid="url(#m59)" marker-end="url(#m59)"/>
<polyline points="251.3,461.7 255.2,456.6 252.2,456.8" marker-start="url(#m60)" marker-mid="url(#m60)" marker-end="url(#m60)"/>
<polyline points="259.4,439.7 245.8,469.9 254.6,454.7 249.6,466.9 278.8,380 329.7,363.4 308.8,366.8 235,329.9 236.5,329.5 238,329.2 235.8,329.6 262.6,326.2 274,410.1 288,391.7 275.3,417.6 271.8,424.6 261.7,422.8 266.1,428.1 259.1,436.4 253.8,453.6" marker-start="url(#m61)" marker-mid="url(#m61)" marker-end="url(#m61)"/>
<polyline points="249.4,464.7 252.4,454.8 306.1,345 329.1,357.1 318.9,369.8 317.8,373.6 231.3,331.4 340.3,290.8 246.3,467.3" marker-start="url(#m62)" marker-mid="url(#m62)" marker-end="url(#m62)"/>
<polyline points="253.7,452.7 257.4,453.4 245.1,471.3 247.2,464.4 259.7,442.4 255.5,450.7 348.8,285.3 348.5,285.6 349.1,285.2 252.8,456.2" marker-start="url(#m63)" marker-mid="url(#m63)" marker-end="url(#m63)"/>
<polyline points="257.4,451.4 252.9,457.1 256.1,456.4 246.2,468.5 293.3,353.3 306.5,327.7" marker-start="url(#m64)" marker-mid="url(#m64)" marker-end="url(#m64)"/>
<polyline points="252.2,454.8 259.2,447 241.1,475.4 252.3,458.6 277.5,386.9 291.8,363.1 295.9,362.6 297.4,388.3 339.5,320.9 350.3,290.3 357.8,281.3 360.1,280.8 362.3,280.1 364.6,279.3 366.8,278.6 219.8,482.1 204.6,568.9 201.4,527.8 205.3,567 215.6,488.5 209.7,497 202.9,549.9 205.8,586.4 201.8,570.7 204.6,572.6 207.1,509.4" marker-start="url(#m65)" marker-mid="url(#m65)" marker-end="url(#m65)"/>
<polyline points="203.9,577.5 203.9,569.6 203.2,567.8 221.4,479.3 204,569.9 199,553.8 203,525 204.1,557.1 201.8,550.4 206.1,584.7 205.5,578.1 206.8,562.4 199.3,529.3 201,525.9 204.9,582 203.6,576.1 207.8,584 202,539.4 210.8,496 206.6,501.7 205,516.7 202.6,570.4 205.1,587.2 206.1,517.8 215.8,489.9 205,504.9 202,537.4 202,547 202.3,568.3 201.2,558.6 203,565 207.7,509.6 205.6,580.3 200.5,556.5 206.8,587 202.5,548.7 200.4,546.3 211.6,500.4 202.2,558.6 202.2,523 199,542.2 204,574.4 199.3,541.1 201.2,527.9 200.8,554.5 206.5,589.6 206.9,507.9 202.2,521.3 200.9,537.9 205.8,590.9 211.3,494.7 211.9,494.8 219.5,481.6 198.1,532.8 205.5,575.4 205.9,591.5" marker-start="url(#m66)" marker-mid="url(#m66)" marker-end="url(#m66)"/>
<polyline points="201.2,522.5 205.2,570.6 206.4,502.5 200.9,530.4 202.3,565.9 205.3,519 204.3,573.7 207,582.1 200.9,533.1 203.6,569.9 199.1,536 205.1,516.2 205.8,511.5 205.9,513.9 200.3,546 203.4,564.3 198.1,527.9 215.7,487.8 207.9,583.4 200.7,551.4 206.4,562.7 206.6,577.8 226.3,472.3 203.2,548.2 208.3,505.7 202.2,549.4 207.6,510.3 204.6,562.7 208.6,511.3 207,568.3 206.1,568.5 202.8,526 204,554.1 200.4,535.2 212.6,493 210.1,502.6 131.9,383.8 163.1,381.2 179.4,387.1 395,282.4 260.9,424.6 201.1,556.3 208.5,503.5 225.4,473.1 207.4,582.4 198.3,530.9 216.7,487.3 205.3,591 210,499.5 198.8,544.9 202.6,519.5 204.6,563.5 203.5,569.8 206.3,583.3" marker-start="url(#m67)" marker-mid="url(#m67)" marker-end="url(#m67)"/>
<polyline points="201.2,549.6 201.5,561.4 208,509.4 205.5,515.2 202.2,527.9 204.6,562.4 212.8,493.7 201.9,558 202.4,545.9 204.2,573.1 197.8,550.5 206.3,583.1 206.1,512.7 201.9,525.8 201.9,562.6 215.6,490 209.9,503.9 221.5,479 207.6,582.4 208.4,498.1 201.6,528.6 210.1,503.4 198.1,539.8 205,518.5 199.5,539.6 202.8,530.9 204,567.7 205,574.6 203.6,562.5 206.9,517.6 200.8,546.1 205.3,579.3 198.3,549.7 201.2,527.3 202.4,537.9 205.6,512.2 206.4,512.2 200.5,547.6" marker-start="url(#m68)" marker-mid="url(#m68)" marker-end="url(#m68)"/>
<polyline points="206.8,509.3 207.1,585 209,509.1 206.6,581.2 198.6,540.8 210.4,501.6 202.4,558.1 206,581.2 203.4,548.4 203.6,552.8 206.2,590.1 203.1,567 198.9,547.3 203.2,571 225.1,474.7 205.2,517.2 208.4,510.2 203.9,521.2 230.7,464.8 204.6,591.3 204.9,565 205,579.6 199.8,553.3 230.3,465.8 209,506.9 203.9,553.6 201.9,536.3 197.8,532.7 208.1,510.2 202.3,531.2 199.7,542.3 208.4,509.2 198.4,538.5 202.2,540.8 223.2,477.9 200.3,535.8 207,510.2 199.7,551.5 110.6,387.2 115,387.5 188.1,373.1 202.5,408.4 207,503.3 209.9,502.9 197.9,547.8 211.8,494.5 202.9,524.6 202.3,531.7 202.7,569 210.8,502.7 201.5,523.5 204.5,559.1 205.1,556.4 206.5,517 207.3,584.8 200.8,556.8 201.5,563.2 205.5,504.7 203.6,516.9 204.9,564.8" marker-start="url(#m69)" marker-mid="url(#m69)" marker-end="url(#m69)"/>
<polyline points="231,464.6 203.4,556.1 206.3,579.9 201.7,534.4 206.9,585.1 206.7,570.5 205.1,576.7 204.9,591.6 204.6,517.8 199.7,556.1 210.4,504.7 198.2,544.5 205.7,573.9 216,488.1 201.6,524 225,476.1 206.4,514.4 210.3,497 202.3,534 198.3,541.3 201.1,559.8 207.5,574.3 209.5,504.1 205.2,564.6 198.8,546.9 199.5,548.2 202.4,567.4 211.7,493.5 202.6,545.8 205.3,518.8 197.7,540.5 229.7,469.5 203.9,519.9 204.2,571.2 202.2,536.8 202,526.8 202,565.9 206,590.9 205.1,567.1 206.1,579.8 204.6,522.7 206,510.2 207.5,582.6 206.8,511.4 203,558.3 207.7,507.1" marker-start="url(#m70)" marker-mid="url(#m70)" marker-end="url(#m70)"/>
<polyline points="202.6,528.5 207.4,514.7 206,511.7 202.7,559.5 201.9,555.7 198.1,543.8 204.2,565 206.8,580.5 219.7,481.3 202.2,563.3 202.7,561.2 203.7,569.9 206.2,565.7 206.4,511.2 214.1,492.2 206.8,582.6 205.9,502.1 207.1,585.4 206.3,582.6 203.7,574.8 211.2,501.5 200.2,551.3 201.4,536.2 207.3,586 206.3,582.6 207.1,583.4 204.5,553.4 201.8,532 205.9,513.6 208,511.9 198.6,532.1 203.1,526.3 199.2,553.2 204.4,521.9 201.1,529.8 206.6,503.8 214,490 206,585 201.9,547.6 201.8,525.7 204.4,516.6 201,546.6 201,546.6 201.4,546.6 112.5,387.8 264.8,414.9" marker-start="url(#m71)" marker-mid="url(#m71)" marker-end="url(#m71)"/>
<polyline points="253.4,390.9 267.4,397.9 273.1,398.6 264.8,406.2" marker-start="url(#m74)" marker-mid="url(#m74)" marker-end="url(#m74)"/>
<polyline points="144.4,371.9 145.6,372.5" marker-start="url(#m75)" marker-mid="url(#m75)" marker-end="url(#m75)"/>
<polyline points="169,392.5 169,392.5" marker-start="url(#m76)" marker-mid="url(#m76)" marker-end="url(#m76)"/>
<polyline points="168.8,363.1 170,413.8 235.6,373.1" marker-start="url(#m77)" marker-mid="url(#m77)" marker-end="url(#m77)"/>
<polyline points="179.4,436.2 220,435.6 196.2,437.5 182.4,442.1 194.1,561.4 192.9,548.8 193.5,569.5 232.7,471.1 199.8,565.8 205.3,596.3 201.5,587.8 231.6,456.7 200.3,583.7 198.5,544.1 204.4,586.4 233.1,454.7 198.3,545.5 207.9,526.8 194.3,574.7 195.6,545.4 203.1,531.3 197.2,578.8 196.8,546.3 201.6,541.7" marker-start="url(#m79)" marker-mid="url(#m79)" marker-end="url(#m79)"/>
<polyline points="216.8,504.2 196.3,575.8 211.3,517.3 229.5,481 195.7,573.5 201.6,589.5 198,561.4 202.4,546.3 207.2,518.1 200.8,569.6 195.6,554.7 194.2,553 199.1,578.3 233.3,454.6 197.5,547.9 213.6,504 194,563.5 198.6,540.9 196.2,565.8 197.1,550.5 200.2,572.9 201.4,591.5 223.1,489.2 195.2,565.1 193.4,553.1 212.6,502.3 197.3,569.7 202.2,537.4 222.6,497.8 209.8,511.5 204.7,594.4 202,589.6 199.4,557.3 204.8,591.7 199.9,555.6 202.3,528.7 229.4,480.7 198.8,557.6 198.8,553.7 198.4,562.1 207.6,516 193.5,558.9 203.5,590.7 200.6,570.4 202.9,594.1 201.9,592.5 207.7,520 224.4,492.7 229.7,484.4 213.8,508.5 228.9,472.4 217.7,500.3 197.5,558.9 204.7,591 201.4,579.3 208.8,519.6 206.9,583.9 198.4,574.6 204.1,593.7 213.3,507.2 215.8,499.5 195.2,571.8" marker-start="url(#m80)" marker-mid="url(#m80)" marker-end="url(#m80)"/>
<polyline points="223.2,484 204.3,588.1 208.5,518.3 206.2,523.5 199.3,580.6 225.8,484.9 214.8,504.9 200.4,535 193.1,570.1 230.2,467.7 232.4,456.5 205.3,524.3 214.6,500.5 195.7,561.6 199.1,578.8 198.3,537.3 194.7,565 197.4,539.5 194.4,548.8 200.7,577.2 200.2,545.3 207.8,524.4 196.2,557.8 212,516.5 231.7,478.2 203.9,589 235.4,463.5 196.3,535.2 202.4,539.8 206.3,585.9 196.9,577.3 199.2,584.7 232.4,466.3 194.5,570.4 231.4,477 197.5,580.3 198.2,546 213.5,504.2 196.9,565.8 212.5,502.1 233.4,472.8 216.2,435.6 198.1,579 205.1,585.3 234.4,461.9 203.8,594 194.3,570.7 206.9,527.3 195.7,542.6 202,584.5 205.3,594.8 207.2,529.1 230.6,466.4 231.2,466.5 193.6,558.8 195.2,566.6 201.9,585.1 200.1,547 237.3,441.2 212.8,508.3 210.4,518 196.8,542.5 197.2,549.1 195.7,556.9" marker-start="url(#m81)" marker-mid="url(#m81)" marker-end="url(#m81)"/>
<polyline points="205.5,591 209.7,511.5 205.8,589 199.2,569 204.3,593.7 196.2,554 205.3,592.8 199.1,556.6 237.4,457.8 193.2,560.2 204.6,584.8 203.4,579.7 198.7,546.6 206.5,517.4 227.8,482.1 192.6,556.8 233.1,476.3 199.5,540.5 202.8,586 196.8,556.2 223.3,489.2 204.1,578.7 204.2,579.2 204.8,585.7 209.2,515.3 192.6,553.7 205.7,595.1 195.9,556 196.6,573.1 203.8,592.9 199.1,579.6 228.6,489.1 209.9,512.2 227.5,487.9 238.9,441 202.3,581.2 198.7,555.7 228.3,474.4 196,562.4 196.3,571 209.7,524.6 237.4,444 206.3,582.3 210,507 236.5,456.2 198.7,584.1 199.5,541.8" marker-start="url(#m82)" marker-mid="url(#m82)" marker-end="url(#m82)"/>
<polyline points="192.8,560.9 194.4,560.7 196,573.9 204.4,528 197.1,576.2 197.5,551.4 200.3,553.9 202.8,540.1 194.6,573.1 198.5,558 234.8,456 196.2,579.4 237.3,447.1 226.8,489 203.5,586.6 194.6,571.6 201.1,586.4 201.9,586.6 232.3,469 193.2,558.1 213.4,505.3 240.5,438.3 201.9,592.1 225.5,479.9 212,513.6 197.7,564.5 218.3,505.1 236.1,450.3 235.6,452.7 194.2,564.1 204.3,589.9 204,520.8 203.5,591.7 199.6,546 196.1,573 226.5,479.2 201.3,572 199.3,567.2 237.2,448.3 204.5,593.7 204.7,596.3 198.3,563.6 197.3,554 196.4,564.6 199.1,585 200.9,569.1 194.5,572.1 208.4,514.4 202.9,592.1 203.1,588.7 224.1,493.1 192.9,561.3 193.2,565.6" marker-start="url(#m83)" marker-mid="url(#m83)" marker-end="url(#m83)"/>
<polyline points="228.2,490 199.6,557.6 205.5,518.8 201.3,575.4 231.5,483.4 231.5,458.5 204.8,596.1 201.5,523.5 210,521.1 197.8,545.4 198.5,570.1 198.2,555.9 205,596.1 215,508.5 198.8,573.8 200.7,572.7 201.3,577 199.7,529.9 197,563.2 197.9,562.2 204.9,520.1 194.9,570.2 204.4,595.8 229.4,473.6 201.5,588.5 199.5,550.4 197.4,554.1 193.4,557.6 212.6,511.6 199.3,585.1 204,594.1 202,539.2 135,376.9 136.9,377.5 138.8,378.8 140,380 141.2,379.4 139.4,380.6 137.5,379.4 141.9,378.1 150,370.6 156.9,367.5 162.5,365 165,363.8 167.5,362.5 170,361.9 172.5,360.6 175,360 177.5,358.8 166.2,364.4 171.2,361.2 176.2,359.4 183.1,355.6 185.6,355.2 187.5,366.2 148.4,394.8 149.8,407.2 157.5,421.5 160,418.5 185.6,388.8 185,391.2 169.8,411.2 238.1,438.6 242.5,439.4 199,564.5 201.8,586.1 195.6,544.3 240.3,442.2 202.8,578.4 204.5,590.9 198.6,581.8 200.1,537.3 198.7,583.7 231.7,471 204.7,591.1 200.2,564.1 204.4,591 232.9,465.2 202,576.8 239.7,447" marker-start="url(#m84)" marker-mid="url(#m84)" marker-end="url(#m84)"/>
<polyline points="196.3,544.8 233,464.7 200.3,556.7 198.8,583.4 204.7,590.9 200.1,537.3 200.1,545.6 200.5,556.7 200.6,530.9 193.4,563.2 235.1,460.8 201.8,591.4 214.1,505.3 198.9,547.3 193.9,558.2 224.1,486.3 199.9,533.6 195.5,556.5 214.6,498.6 201.9,535.8 198.3,561.2 228.7,468.7 203.2,584.2 200.8,586.6 203.4,579.9 193.7,551.2 197.9,558.3 218.3,503 199.5,548.8 193.6,547.4 199.4,533.4 196.6,575.8 204.3,527.1 203.4,415.9 232,396.6 241.6,400.1 238.1,404 233,409.4 244.7,413.2 243.4,419.3 250.4,418.9 228.1,428.5 231.8,432.9 256.1,420.6 253,423.2 256.5,426.7 254.7,431.1 240.7,436.4 231.1,471.3 224.6,480.7 199.2,568.4 201.3,543.3 195.9,577.8 202.6,591.4 213.5,502.7 214.2,503.9 195.6,558.8 194.5,559.8 200.6,571.4 202.5,578.1 242,441.4 193.9,557.8 217.5,505.6 200.7,574.4 195.6,537.4 216.2,498.3 196.3,542.2 204,594.8 216.3,503.6" marker-start="url(#m85)" marker-mid="url(#m85)" marker-end="url(#m85)"/>
<polyline points="204.5,581.3 195.9,574 210.8,513.7 204,583.3 199,533.1 204.6,527.8 221.4,495.9 208.2,525.1 207.6,524.7 239.4,442.5 199.8,584.9 243.6,438 199.7,556.8 231,472.3 197.6,569.2 203.2,577.4 200.3,580.8 195.8,550 215.5,509 200.2,544.8 209.2,510.6 195.9,570.2 199.6,577.3 212.8,510.3 232.8,471.7 205.7,588.5 197,552.1 204.8,596 233.6,455.2 204.8,594.1 223.7,487.7 206.1,526.6 201.6,551.1 205,589.9 205.5,587.2 199.7,545.3 208.1,525.9 198.5,552.4 215.3,502.3 229.4,468 180,405.9 166.2,435.6 202.5,575.9 199.3,582.4 218.5,501.8 196.3,576.5 204.1,589.2 198.4,551.8 203.2,594.5 230.9,484 213.2,511.7 199,555.2 241,440.1 203.6,577.5 200,547.2 208.7,522.8 207.7,512.2" marker-start="url(#m86)" marker-mid="url(#m86)" marker-end="url(#m86)"/>
<polyline points="195.5,556.9 206.8,517.7 195.8,572.1 199.3,582 197.2,558.9 199.7,546.9 203.4,523.3 211.2,511.4 224.2,489.2 197.8,564.9 201.2,546.7 198.6,548.4 192.9,563.7 231.4,474.3 226.4,483.2 206.4,519.8 200.7,538.3 208.4,514.2 196.9,557.3 210.5,506.5 203.3,577.9 232.8,472 198.3,577 198.4,562.6 237.1,443.8 233.9,460.1 206.3,584.8 196.8,568.2 198.9,548.4 205.7,524.2 199.5,550.4 200.8,525.8 203.9,593.6 200.9,588.8 205.3,593.3 233.3,455.4 198.8,583.6 198.9,563.3 183.1,380 186.2,381.9 214.1,391.2 255.2,410.6 250.4,414.1 271.4,406.6 252.1,429.4 244.2,437.2" marker-start="url(#m87)" marker-mid="url(#m87)" marker-end="url(#m87)"/>
<polyline points="166.2,375 246,408.4 285.4,398.3 250.4,424.1 246.9,426.7 245.1,429.4 248.6,428.5 246,432.9 253,434.6 247.7,437.7" marker-start="url(#m89)" marker-mid="url(#m89)" marker-end="url(#m89)"/>
<polyline points="248.1,370 249.5,433.7 251.2,438.1" marker-start="url(#m91)" marker-mid="url(#m91)" marker-end="url(#m91)"/>
<polyline points="233.8,372.5 233.8,372.5" marker-start="url(#m92)" marker-mid="url(#m92)" marker-end="url(#m92)"/>
<polyline points="197.5,546.8 203.5,593.7 214.5,500.9 204.5,596.4 197.8,542.6 212.1,506.5 198.7,535 199.5,571.2 209.8,505.7 195.7,546.4 205.7,519.7 225.7,481.1 201.7,528.9 195.6,550.5 193.7,558.5 201.4,588.9 215.5,496 195.5,557 198.1,568.4 199.9,585.5 197.1,543.2 253.8,438.9 201.1,580.3 238.4,468.2 249.2,449.8 209.5,513.1 196.9,578.7 204,591.7 241.1,464.7 199.8,575.5 194.6,551.4 200.1,531.3 202.5,589.1 194.7,558.2 196.4,576.7 194.3,573.4 195.1,559.2 195.1,559.6 201,579.6 213,504.7 194.3,572.6 194.3,556.3 201.1,585.1" marker-start="url(#m93)" marker-mid="url(#m93)" marker-end="url(#m93)"/>
<polyline points="208.2,514.4 198.1,573.1 213.2,502.1 197.3,575.7 200.9,588.1 197.3,550.1 199.7,531.3 207.9,512.4 196.4,571.5 193.4,555.8 206.1,519.9 194.8,563.5 202.9,592.6 201.7,529.3 195.3,569.1 216.8,495.9 198.6,584.7 200.2,531.6 195.6,564 196,556 233.8,473.4 214.8,502.4 197.5,546.5 197.1,549.5 237,469.2 204.6,596.3 200.2,583.6 201.8,592.4 210.1,506.5 248.2,451.2 211.6,506.7 195.8,548.1 204.6,522.7 193,563.8 220.7,488.8 202.5,586.3 196.7,564.3 200.4,583.9 200.5,578.6 215.6,500.7 197.3,556.8 198.5,536.3 197.8,541.2 194,565.7 204.1,593.7 202.1,591.3 196.5,562.7 203.8,586.3 212.6,505.4 202.5,591.8 195.2,571.7 197.4,541.3 197.1,548.8 126.2,382.2 128.8,381.9 131.2,381.2 133.1,381.9 124.4,382.8 147.5,376.2 148.8,376.9 152.5,375.6 155,375.6 157.5,374.4 161.9,371.2 165,370.6 168.1,370 171.2,368.8 173.1,368.8 174.4,373.8 190,368.8 185,373.1 278.8,371.2 291.8,375.1 286.2,387.1 260.4,396.1 279.7,395.2 269.6,423.7 241.6,427.6 255.6,437.7 199,533.5 207.2,516.4 197.9,543.2 215.3,500.4 242.7,465.1 195.6,559.9 212.2,505.5 196.9,541.6 193.8,556.6 209.3,508.9 197.2,566.9 193.2,559.5 204.8,595.9 219.1,492.5 194.6,550 244.8,450.6 214.7,500.6 203.2,581.7 193.6,570.6 196.7,542 203.7,595.2 197.4,544.9 200.5,582 239.3,464.6 212.5,506.1 239.3,459.7 235.2,469.1 198.3,539.3 204,593.1 233.7,475 196,550 249.3,449.2 203.1,593.7 196.8,563.8 210.4,513.2 227.5,477.4 194.6,566.6 194.9,573.8 197,560.2 200.8,529.8 211.3,502.9 197.1,550.4 197.2,539.2 194.4,562 195.5,553.7 208.4,513.6 240.3,462.4 207.4,512.3" marker-start="url(#m94)" marker-mid="url(#m94)" marker-end="url(#m94)"/>
<polyline points="206.5,520.2 229.4,479.6 196.9,556.8 197.5,548.3 244.6,452.3 202.1,592 197.8,557.4 215.6,496.9 204.5,520.3 204,592.3 193.7,557.2 204.8,522.6 200.5,582 229,480.4 200.4,531.1 209.8,511.3 197.3,539 196.5,557.7 193.6,569 195.9,573.5 195.8,576.5 228.1,481.4 202.8,585.6 193.7,564.2 205.5,595.2 199.2,579.1 194.3,552.3 209.9,510.5 205.4,520.7 202.5,593.4 203.2,586.8 196.5,571 213,500.9 200.1,579.5 222.1,491.6 242.9,465.7 208.1,511.3 204,521.4 199.4,572.9 250.9,450.1 193.9,551 210.8,507.3 205.8,519.4 232.5,476.2 249.2,454.5 267.1,372.9 209.2,514.6 194.3,557.8 201.4,530.4 201.7,529.1 235.2,474.2 198.4,576 192.7,564.8 197.9,567.4 195.8,543.5 207.9,514.9 247.2,443.5 197.6,575.5 202.5,581.4 213.3,504.3 195.7,548.5 198.1,583 201.3,579.6 204.2,595.9 221.3,491.1 197.4,569.1 210.8,509.6 194.6,564.6 203.1,593.6 246.4,458.4 242.6,463.3 244.2,460.3 198.5,577.6 197.7,549.5 202.9,593.5 197.2,572 196,549.7 212.2,504.9 195,572 204.8,595.3 203,525.9" marker-start="url(#m95)" marker-mid="url(#m95)" marker-end="url(#m95)"/>
<polyline points="198.6,536.8 197.8,579.9 196.3,554.8 201.1,586.5 203.5,593.6 212.1,505.8 193.8,563.5 241.6,464.3 214,504.1 197.2,572.8 249.8,448.3 196.3,555.4 195.4,569.7 198.9,536.4 195.1,576.6 239.6,462 245,456.6 195,573.2 211.4,500.8 196.7,563.7 194.8,568 207.8,517.2 204.3,594.6 197.1,579.2 195,570.7 194.9,552.1 219.8,491 227.9,482.1 242.3,464.4 193.7,567 195.4,545.6 196.7,547.6 221.8,491.6 245.1,456.5 197.5,537.8 207.3,519.2 195.2,568.2 197.4,567.2 208.6,515.1 201.7,584.1 211.2,509.4 202,579.6 193.5,557.4 203.1,589.5 194.5,573.8 232,471.5 200.2,585.5 200.8,529.6 101,388.1 111.9,383.1 113.8,383.8 115.6,384 117.5,384.4 119.4,384 121.2,383.5 110.6,384.4 115,382.8 207.2,367.5 213.5,375.4 228.9,390.9 253.4,397.9 277.5,404.9 279.2,407.1 281.9,409.2 281,393.9 282.7,397 286.2,394.4 277.5,416.2 268.7,417.1 268.3,420.6 257.4,433.7 260,432.9 261.7,437.2 201.7,530.2 198.4,577.8 197.2,552.1 243.1,453.7 242.5,457.8 203.3,594.9 198.7,536.2 210.5,509.6 200.7,590.2 201.8,527.7 238.6,464 204.5,596.2 192.9,555.5 250.4,446.1 194.4,549.3 239,462.6 203.2,587.2 197.9,547 212.2,506.8 203.8,522.5 200,534.4 195.8,551.2 211.2,509.5 231.7,472.7 202.4,592.6 196.9,576.1 197.8,573.6" marker-start="url(#m96)" marker-mid="url(#m96)" marker-end="url(#m96)"/>
<polyline points="195.3,546.2 195.8,571.5 194.1,556.5 197.9,542 239.8,465.8 194.8,548.4 210.4,511.3 196.2,562.8 227.2,481.9 202.1,587 198,573.3 197.2,546.6 252.2,439.7 199.5,580.9 204.2,520 201.3,528.6 197.1,559.4 196.6,545.8 195.3,552.3 196.8,541 199.9,530.6 200.3,586.4 194.8,564.4 212.9,505.4 207.2,517.3 194.1,554.9 200.1,533.3 197.9,580.1 217.9,497.3 251.3,446.5 192.8,561.1 200.6,532.7 198.3,541.7 242.4,457.9 234.9,468.7 194.9,558.5 197.8,551.1 223,491.1 193.9,558.1 240.4,457.9 204.5,520.4 196.2,576.4 196.3,568.1 197.1,548.7 197.7,549.5 199.4,576.3 205.5,521.9 208.9,509.3 204.4,595.7 233.6,469.1 201.6,583.2 209,509.3 214.2,500.1 195.8,545.8 203.1,593 195.3,550.3 201.8,592.3 194.5,555.7 193.6,558.2 194.6,558.3 215.3,500.2 213.2,502.8 219.8,493.3 201,575.6 198,559.9 203.1,595.2 197.6,562.7 208.2,512.7 240.7,458 198.7,577.2 194,567.7 212.6,505.9 195.2,547.3 195.2,555.7 196.8,559.6 201.5,584.9 200.9,589.1 198,537.3 247.3,454.8 202.5,587.2 196.4,578.4 194.5,561.4 198.3,567.1" marker-start="url(#m97)" marker-mid="url(#m97)" marker-end="url(#m97)"/>
<polyline points="234.7,472.5 197.1,582 196.3,543.6 211,503.5 203.2,583.2 193.4,554.8 193.5,555.9 202,578.8 203.7,591.6 210.9,505.4 222.9,486 204.4,521.1 236.4,465.4 238.2,465.2 203.5,593.1 221.9,488 208.8,512.7 201.3,590.8 204.1,593.7 198.8,582.3 196,542 202.1,590.4 195.8,571.7 203.4,523.8 194.7,569.3 201.2,579.8 204.1,588.1 196.2,568.7 202.7,580.1 203.5,589.3 197.6,540.2 202.4,590.7 205.5,594.8 194.9,555.6 195,548.7 210.1,509.7 248.4,441 198.9,538.9 194.2,565.7 208.8,511.7 216.5,497.3 196.9,561.5 202.4,587.5 246.5,444.2 209.2,514.3 198.8,584.1 198.7,572.2 236,473.6 194.9,563.1 201.3,587 212.9,504.1 223.2,489.1 199.4,582.3 222.1,486.7 248.3,443.9 203.4,591.6 195.9,563.8 211.3,507.7 195.7,549.6 238.9,461.6 204.4,593.6 200.4,578.4 198.1,538.2 203.7,594.3 198.9,578.8 195.5,554.3 197.6,540.7 197.4,543.6 197,544 198,566.9 243.2,459.4 202,591.5 204.8,595.3 203.7,595.6 198.5,582.6 196.2,555.9 198.1,537.5 205.1,518.8 203.1,584.1 195.6,565.5 197.5,572.9 203.7,584.6" marker-start="url(#m98)" marker-mid="url(#m98)" marker-end="url(#m98)"/>
<polyline points="251.5,444.6 197.3,569.7 206.8,518.2 195.7,549.8 203.2,584 201.4,526 213,503.2 242.3,461 205.3,520.9 204.7,520.1 200.2,578.6 194.6,567.2 205.5,518.4 197.1,543.1 217.2,495.5 204,591.8 194.5,570.5 204.7,592.4 210.5,509.8 223.5,488.7 195.9,554.3 196.2,563.4 195.6,555.5 202,528.6 204.6,596.2 218.4,497 243,454 196.5,563.5 201.2,531.8 201.3,589.5 241.7,454.9 196.1,574.6 194.6,566.3 197,579.5 248.6,451.6 210,511.5 196.5,561.1 243.4,451.9 197.7,550.6 206.3,519.3 196.7,564.7 203.3,591.9 195.5,575.2 197.3,582 206.6,519.8 215.9,494.5" marker-start="url(#m99)" marker-mid="url(#m99)" marker-end="url(#m99)"/>
</g>
<g stroke="#2e2e2e" stroke-width="1.05" fill="none">
<rect x="54.50" y="57.50" width="554.00" height="587.75"/>
<path d="M114.42 645.25v-6.0 M114.42 57.50v6.0"/>
<path d="M207.50 645.25v-6.0 M207.50 57.50v6.0"/>
<path d="M300.57 645.25v-6.0 M300.57 57.50v6.0"/>
<path d="M393.65 645.25v-6.0 M393.65 57.50v6.0"/>
<path d="M486.73 645.25v-6.0 M486.73 57.50v6.0"/>
<path d="M579.80 645.25v-6.0 M579.80 57.50v6.0"/>
<path d="M54.50 583.25h6.0 M608.50 583.25h-6.0"/>
<path d="M54.50 468.25h6.0 M608.50 468.25h-6.0"/>
<path d="M54.50 353.25h6.0 M608.50 353.25h-6.0"/>
<path d="M54.50 238.25h6.0 M608.50 238.25h-6.0"/>
<path d="M54.50 123.25h6.0 M608.50 123.25h-6.0"/>
</g>
<g fill="#2e2e2e" font-size="20.4px">
<text x="113.92" y="671.2" text-anchor="middle">34.5</text>
<text x="207.00" y="671.2" text-anchor="middle">35</text>
<text x="300.07" y="671.2" text-anchor="middle">35.5</text>
<text x="393.15" y="671.2" text-anchor="middle">36</text>
<text x="486.23" y="671.2" text-anchor="middle">36.5</text>
<text x="579.30" y="671.2" text-anchor="middle">37</text>
<text x="48.2" y="591.25" text-anchor="end">5</text>
<text x="48.2" y="476.25" text-anchor="end">10</text>
<text x="48.2" y="361.25" text-anchor="end">15</text>
<text x="48.2" y="246.25" text-anchor="end">20</text>
<text x="48.2" y="131.25" text-anchor="end">25</text>
</g>
<text x="331" y="697.4" text-anchor="middle" font-size="22.5px" fill="#2e2e2e">Salinity</text>
<text transform="translate(17.0 351.25) rotate(-90)" text-anchor="middle" font-size="22.6px" fill="#2e2e2e">Potential Temperature ( °C)</text>
<g font-size="22.3px" font-weight="bold" fill="#000" text-anchor="middle">
<text x="330" y="17.4">0209, Section 14, Dives 597-631</text>
<text x="327.8" y="45.7">2025-12-22 22:34 to 2025-12-28 03:17</text>
</g>
<g shape-rendering="crispEdges">
<rect x="655.90" y="57.50" width="16.70" height="9.48" fill="#f9fb15"/>
<rect x="655.90" y="66.68" width="16.70" height="9.48" fill="#f7f51b"/>
<rect x="655.90" y="75.87" width="16.70" height="9.48" fill="#f6ef20"/>
<rect x="655.90" y="85.05" width="16.70" height="9.48" fill="#f5e924"/>
<rect x="655.90" y="94.23" width="16.70" height="9.48" fill="#f5e327"/>
<rect x="655.90" y="103.42" width="16.70" height="9.48" fill="#f7dc2a"/>
<rect x="655.90" y="112.60" width="16.70" height="9.48" fill="#fad62d"/>
<rect x="655.90" y="121.79" width="16.70" height="9.48" fill="#fccf30"/>
<rect x="655.90" y="130.97" width="16.70" height="9.48" fill="#fec934"/>
<rect x="655.90" y="140.15" width="16.70" height="9.48" fill="#fec338"/>
<rect x="655.90" y="149.34" width="16.70" height="9.48" fill="#febe3c"/>
<rect x="655.90" y="158.52" width="16.70" height="9.48" fill="#f8ba3d"/>
<rect x="655.90" y="167.70" width="16.70" height="9.48" fill="#f0ba36"/>
<rect x="655.90" y="176.89" width="16.70" height="9.48" fill="#e6bb2d"/>
<rect x="655.90" y="186.07" width="16.70" height="9.48" fill="#dcbd29"/>
<rect x="655.90" y="195.25" width="16.70" height="9.48" fill="#d1bf27"/>
<rect x="655.90" y="204.44" width="16.70" height="9.48" fill="#c5c22a"/>
<rect x="655.90" y="213.62" width="16.70" height="9.48" fill="#b9c431"/>
<rect x="655.90" y="222.80" width="16.70" height="9.48" fill="#abc739"/>
<rect x="655.90" y="231.99" width="16.70" height="9.48" fill="#9dc943"/>
<rect x="655.90" y="241.17" width="16.70" height="9.48" fill="#8fcb4e"/>
<rect x="655.90" y="250.36" width="16.70" height="9.48" fill="#81cc59"/>
<rect x="655.90" y="259.54" width="16.70" height="9.48" fill="#72cd64"/>
<rect x="655.90" y="268.72" width="16.70" height="9.48" fill="#64cd6f"/>
<rect x="655.90" y="277.91" width="16.70" height="9.48" fill="#57cc7a"/>
<rect x="655.90" y="287.09" width="16.70" height="9.48" fill="#4acb84"/>
<rect x="655.90" y="296.27" width="16.70" height="9.48" fill="#3fca8e"/>
<rect x="655.90" y="305.46" width="16.70" height="9.48" fill="#37c897"/>
<rect x="655.90" y="314.64" width="16.70" height="9.48" fill="#31c69f"/>
<rect x="655.90" y="323.82" width="16.70" height="9.48" fill="#2cc4a7"/>
<rect x="655.90" y="333.01" width="16.70" height="9.48" fill="#24c1ae"/>
<rect x="655.90" y="342.19" width="16.70" height="9.48" fill="#19bfb6"/>
<rect x="655.90" y="351.38" width="16.70" height="9.48" fill="#0bbdbd"/>
<rect x="655.90" y="360.56" width="16.70" height="9.48" fill="#02bac3"/>
<rect x="655.90" y="369.74" width="16.70" height="9.48" fill="#01b8ca"/>
<rect x="655.90" y="378.93" width="16.70" height="9.48" fill="#08b5d0"/>
<rect x="655.90" y="388.11" width="16.70" height="9.48" fill="#12b1d6"/>
<rect x="655.90" y="397.29" width="16.70" height="9.48" fill="#18addb"/>
<rect x="655.90" y="406.48" width="16.70" height="9.48" fill="#1ca9df"/>
<rect x="655.90" y="415.66" width="16.70" height="9.48" fill="#20a5e3"/>
<rect x="655.90" y="424.84" width="16.70" height="9.48" fill="#23a0e5"/>
<rect x="655.90" y="434.03" width="16.70" height="9.48" fill="#259be8"/>
<rect x="655.90" y="443.21" width="16.70" height="9.48" fill="#2797eb"/>
<rect x="655.90" y="452.39" width="16.70" height="9.48" fill="#2b91ef"/>
<rect x="655.90" y="461.58" width="16.70" height="9.48" fill="#2d8cf3"/>
<rect x="655.90" y="470.76" width="16.70" height="9.48" fill="#2e87f7"/>
<rect x="655.90" y="479.95" width="16.70" height="9.48" fill="#2f81fa"/>
<rect x="655.90" y="489.13" width="16.70" height="9.48" fill="#327cfc"/>
<rect x="655.90" y="498.31" width="16.70" height="9.48" fill="#3875fe"/>
<rect x="655.90" y="507.50" width="16.70" height="9.48" fill="#3e6fff"/>
<rect x="655.90" y="516.68" width="16.70" height="9.48" fill="#4269fe"/>
<rect x="655.90" y="525.86" width="16.70" height="9.48" fill="#4563fd"/>
<rect x="655.90" y="535.05" width="16.70" height="9.48" fill="#465efb"/>
<rect x="655.90" y="544.23" width="16.70" height="9.48" fill="#4758f8"/>
<rect x="655.90" y="553.41" width="16.70" height="9.48" fill="#4852f4"/>
<rect x="655.90" y="562.60" width="16.70" height="9.48" fill="#484df0"/>
<rect x="655.90" y="571.78" width="16.70" height="9.48" fill="#4747eb"/>
<rect x="655.90" y="580.96" width="16.70" height="9.48" fill="#4741e5"/>
<rect x="655.90" y="590.15" width="16.70" height="9.48" fill="#463cde"/>
<rect x="655.90" y="599.33" width="16.70" height="9.48" fill="#4537d5"/>
<rect x="655.90" y="608.52" width="16.70" height="9.48" fill="#4332cb"/>
<rect x="655.90" y="617.70" width="16.70" height="9.48" fill="#422ec0"/>
<rect x="655.90" y="626.88" width="16.70" height="9.48" fill="#402ab4"/>
<rect x="655.90" y="636.07" width="16.70" height="9.48" fill="#3e26a8"/>
</g>
<g stroke="#2e2e2e" stroke-width="1.05" fill="none">
<rect x="655.90" y="57.50" width="16.70" height="587.75"/>
<path d="M655.90 68.90h5.8 M672.60 68.90h-5.8"/>
<path d="M655.90 185.25h5.8 M672.60 185.25h-5.8"/>
<path d="M655.90 301.60h5.8 M672.60 301.60h-5.8"/>
<path d="M655.90 418.00h5.8 M672.60 418.00h-5.8"/>
<path d="M655.90 534.35h5.8 M672.60 534.35h-5.8"/>
</g>
<g fill="#2e2e2e" font-size="20.45px">
<text x="677.6" y="76.50">28-Dec-2025</text>
<text x="677.6" y="192.85">27-Dec-2025</text>
<text x="677.6" y="309.20">26-Dec-2025</text>
<text x="677.6" y="425.60">25-Dec-2025</text>
<text x="677.6" y="541.95">24-Dec-2025</text>
</g>
</svg>
</body></html>
